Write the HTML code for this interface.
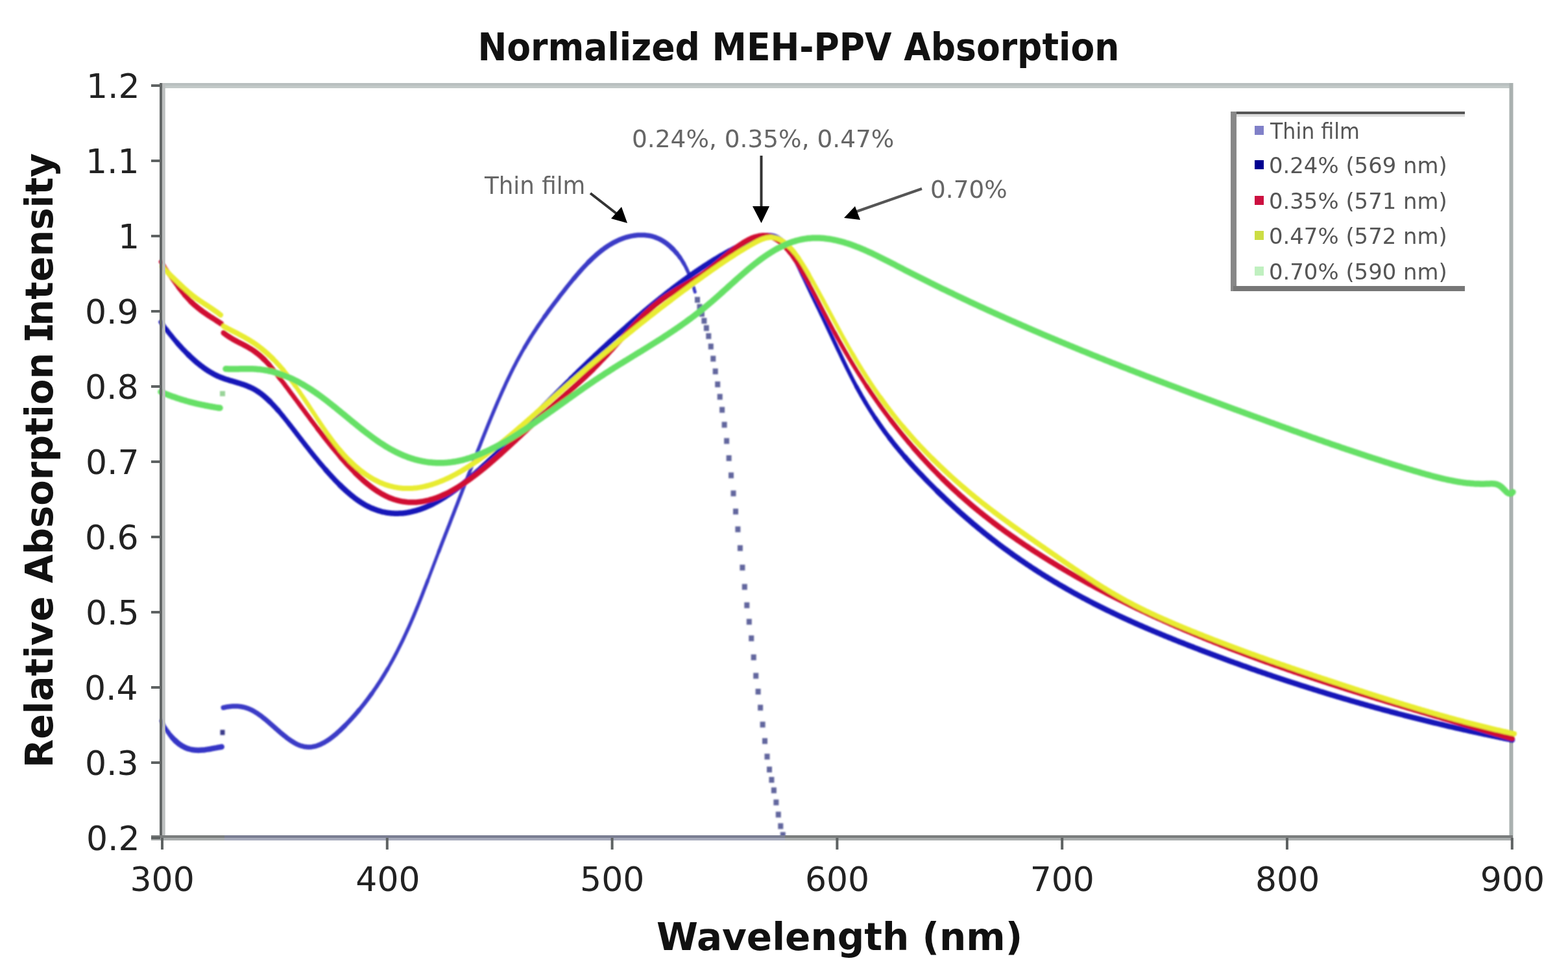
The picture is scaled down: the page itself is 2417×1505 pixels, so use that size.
<!DOCTYPE html>
<html><head><meta charset="utf-8"><title>Normalized MEH-PPV Absorption</title><style>
html,body{margin:0;padding:0;background:#fff;width:2417px;height:1505px;overflow:hidden}
svg{display:block}
text{font-family:"DejaVu Sans","Liberation Sans",sans-serif}
.tk{font-size:52px;fill:#222}
.tt{font-size:58px;font-weight:bold;fill:#111}
.an{font-size:38px;fill:#666}
.lg{font-size:34px;fill:#555}
</style></head><body>
<svg width="2417" height="1505" viewBox="0 0 2417 1505">
<rect width="2417" height="1505" fill="#fff"/>
<rect x="250" y="128" width="2080" height="8" fill="#c2c9c8"/>
<rect x="250" y="128" width="2080" height="4" fill="#b9c0c0"/>
<rect x="2326.5" y="128" width="6" height="1168" fill="#aab1b0"/>
<defs><clipPath id="plotclip"><rect x="240" y="128" width="2100" height="1166"/></clipPath><filter id="soft" x="-5%" y="-5%" width="110%" height="110%"><feGaussianBlur stdDeviation="0.9"/></filter></defs>
<g clip-path="url(#plotclip)"><g filter="url(#soft)">
<g fill="none" stroke="#3535c6" stroke-linejoin="round" stroke-linecap="round"><path d="M248.7,1111.7 250.7,1115.5 252.7,1119.0 254.7,1122.4 255.7,1124.0" stroke-width="6.0"/><path d="M254.7,1122.4 256.7,1125.5 258.7,1128.5 259.7,1129.9" stroke-width="6.5"/><path d="M258.7,1128.5 260.7,1131.3 262.7,1133.9 263.7,1135.1" stroke-width="7.0"/><path d="M262.7,1133.9 264.7,1136.3 266.7,1138.6" stroke-width="7.5"/><path d="M265.7,1137.5 267.7,1139.7 269.7,1141.7 270.7,1142.6" stroke-width="8.0"/><path d="M269.7,1141.7 271.7,1143.6 273.7,1145.3 275.7,1146.9 277.7,1148.3 279.7,1149.6 281.7,1150.8 283.7,1151.9 285.7,1152.8 287.7,1153.7 289.7,1154.4 291.7,1155.0 293.7,1155.5 295.7,1156.0 297.7,1156.3 299.7,1156.6 301.7,1156.7 303.7,1156.8 305.7,1156.9 307.7,1156.8 309.7,1156.8 311.7,1156.6 313.7,1156.4 315.7,1156.2 317.7,1155.9 319.7,1155.6 321.7,1155.3 323.7,1155.0 325.7,1154.6 327.7,1154.2 329.7,1153.8 331.7,1153.4 333.7,1153.1 335.7,1152.7 337.7,1152.3 339.7,1152.0 341.7,1151.6" stroke-width="8.5"/></g>
<rect x="339.5" y="1125.4" width="7" height="8" fill="#3a3a8a"/>
<g fill="none" stroke="#3a3ac6" stroke-linejoin="round" stroke-linecap="round"><path d="M344.3,1091.2 346.3,1090.8 348.3,1090.3 350.3,1090.0 352.3,1089.7 354.3,1089.4 356.3,1089.2 358.3,1089.1 360.3,1089.0 362.3,1089.0 364.3,1089.0 366.3,1089.1 368.3,1089.3 370.3,1089.5 372.3,1089.8 374.3,1090.2 376.3,1090.7 378.3,1091.2 380.3,1091.8 382.3,1092.5 384.3,1093.3 386.3,1094.2 388.3,1095.2 390.3,1096.2 392.3,1097.3 394.3,1098.6 396.3,1099.8 398.3,1101.2 400.3,1102.6 402.3,1104.1 404.3,1105.6 406.3,1107.2 408.3,1108.8 410.3,1110.4 412.3,1112.1 414.3,1113.8 416.3,1115.6 418.3,1117.3 420.3,1119.1 422.3,1120.8 424.3,1122.6 426.3,1124.4 428.3,1126.1 430.3,1127.9 432.3,1129.6 434.3,1131.3 436.3,1132.9 438.3,1134.6 440.3,1136.1 442.3,1137.7 444.3,1139.2 446.3,1140.6 448.3,1142.0 450.3,1143.3 452.3,1144.5 454.3,1145.7 456.3,1146.8 458.3,1147.8 460.3,1148.7 462.3,1149.5 464.3,1150.2 466.3,1150.7 468.3,1151.2 470.3,1151.6 472.3,1151.8 474.3,1152.0 476.3,1152.0 478.3,1151.9 480.3,1151.7 482.3,1151.4 484.3,1151.0 486.3,1150.6 488.3,1150.0 490.3,1149.3 492.3,1148.5 494.3,1147.7 496.3,1146.7 498.3,1145.7 500.3,1144.6 502.3,1143.4 504.3,1142.2 506.3,1140.9 508.3,1139.5 510.3,1138.0 512.3,1136.5 514.3,1134.9 516.3,1133.3 518.3,1131.6 520.3,1129.8 522.3,1128.0 524.3,1126.2 526.3,1124.3 528.3,1122.3 530.3,1120.4 531.3,1119.4" stroke-width="7.5"/><path d="M530.3,1120.4 532.3,1118.3 534.3,1116.3 536.3,1114.2 538.3,1112.1 540.3,1109.9 542.3,1107.8 544.3,1105.5 546.3,1103.3 548.3,1101.0 550.3,1098.7 552.3,1096.3 553.3,1095.1" stroke-width="7.0"/><path d="M552.3,1096.3 554.3,1093.9 556.3,1091.5 558.3,1089.0 560.3,1086.5 562.3,1083.9 564.3,1081.3 566.3,1078.7 568.3,1076.0 570.3,1073.3 572.3,1070.5 573.3,1069.1" stroke-width="6.5"/><path d="M572.3,1070.5 574.3,1067.7 576.3,1064.8 578.3,1061.9 580.3,1059.0 582.3,1055.9 584.3,1052.9 586.3,1049.8 588.3,1046.6 590.3,1043.4 592.3,1040.1 594.3,1036.8 596.3,1033.4 597.3,1031.7" stroke-width="6.0"/><path d="M596.3,1033.4 598.3,1030.0 600.3,1026.5 602.3,1022.9 604.3,1019.3 606.3,1015.6 608.3,1011.9 610.3,1008.1 612.3,1004.2 614.3,1000.3 616.3,996.3 618.3,992.3 620.3,988.2 622.3,984.0 624.3,979.7 626.3,975.4 628.3,971.0 630.3,966.6 632.3,962.1 634.3,957.5 636.3,952.8 638.3,948.1 640.3,943.3 642.3,938.4 644.3,933.5 646.3,928.5 648.3,923.5 650.3,918.4 652.3,913.3 654.3,908.1 656.3,903.0 658.3,897.8 659.3,895.2" stroke-width="5.5"/><path d="M658.3,897.8 660.3,892.6 662.3,887.3 664.3,882.1 666.3,876.8 668.3,871.6 670.3,866.4 672.3,861.1 674.3,855.9 676.3,850.7 677.3,848.1" stroke-width="5.0"/><path d="M676.3,850.7 678.3,845.5 680.3,840.3 682.3,835.1 684.3,830.0 686.3,824.8 688.3,819.7 690.3,814.5 692.3,809.4 694.3,804.2 696.3,799.1 698.3,793.9 700.3,788.8 702.3,783.6 704.3,778.5 706.3,773.3 708.3,768.1 710.3,763.0 712.3,757.8 714.3,752.6 716.3,747.4 718.3,742.2 720.3,737.0 722.3,731.8 724.3,726.6 726.3,721.4 728.3,716.2 730.3,711.1 732.3,705.9 734.3,700.8 736.3,695.6 738.3,690.5 740.3,685.4 742.3,680.3 744.3,675.3 746.3,670.3 748.3,665.3 750.3,660.3 752.3,655.3 754.3,650.4 756.3,645.5 758.3,640.7 760.3,635.9 762.3,631.1 764.3,626.4 766.3,621.7 768.3,617.0 770.3,612.5 772.3,607.9 774.3,603.4 776.3,599.0 778.3,594.6 780.3,590.2 782.3,586.0 784.3,581.8 786.3,577.6 788.3,573.5 790.3,569.5 792.3,565.6 794.3,561.7 796.3,557.8 798.3,554.1 800.3,550.4 802.3,546.8 804.3,543.2 806.3,539.7 808.3,536.2 809.3,534.5" stroke-width="5.5"/><path d="M808.3,536.2 810.3,532.8 812.3,529.4 814.3,526.1 816.3,522.9 818.3,519.7 820.3,516.5 822.3,513.4 824.3,510.3 826.3,507.3 828.3,504.2 830.3,501.3 832.3,498.4 834.3,495.5 836.3,492.6 838.3,489.8 840.3,486.9" stroke-width="6.0"/><path d="M839.3,488.3 841.3,485.6 843.3,482.8 845.3,480.0 847.3,477.3 849.3,474.6 851.3,471.9 853.3,469.3 855.3,466.6 857.3,464.0 859.3,461.4 861.3,458.7 863.3,456.1 865.3,453.5 867.3,451.0 869.3,448.4 871.3,445.9 873.3,443.3 875.3,440.8 877.3,438.3 879.3,435.9 881.3,433.4 883.3,431.0 885.3,428.6" stroke-width="6.5"/><path d="M884.3,429.8 886.3,427.4 888.3,425.0 890.3,422.7 892.3,420.4 894.3,418.1 896.3,415.9 898.3,413.7 900.3,411.5 902.3,409.4 904.3,407.3 906.3,405.2 908.3,403.2" stroke-width="7.0"/><path d="M907.3,404.2 909.3,402.2 911.3,400.3 913.3,398.4 915.3,396.5 917.3,394.7 919.3,392.9 921.3,391.2 923.3,389.5 925.3,387.9 927.3,386.3 929.3,384.7 931.3,383.3 933.3,381.8 935.3,380.5 937.3,379.1 939.3,377.9 941.3,376.7 943.3,375.5 945.3,374.4 947.3,373.3 949.3,372.3 951.3,371.3 953.3,370.4 955.3,369.5 957.3,368.7 959.3,367.9 961.3,367.2 963.3,366.5 965.3,365.9 967.3,365.3 969.3,364.8 971.3,364.4 973.3,363.9 975.3,363.6 977.3,363.3 979.3,363.0 981.3,362.8 983.3,362.6 985.3,362.5 987.3,362.4 989.3,362.4 991.3,362.4 993.3,362.5 995.3,362.7 997.3,362.9 999.3,363.2 1001.3,363.5 1003.3,363.9 1005.3,364.4 1007.3,365.0 1009.3,365.6 1011.3,366.4 1013.3,367.2 1015.3,368.1 1017.3,369.0 1019.3,370.1 1021.3,371.3 1023.3,372.5 1025.3,373.9 1027.3,375.3 1029.3,376.9 1031.3,378.5 1033.3,380.3 1035.3,382.2 1037.3,384.2" stroke-width="7.5"/><path d="M1036.3,383.1 1038.3,385.2 1040.3,387.4 1042.3,389.6 1043.3,390.8" stroke-width="7.0"/><path d="M1042.3,389.6 1044.3,392.0 1046.3,394.6 1048.3,397.3" stroke-width="6.5"/><path d="M1047.3,395.9 1049.3,398.7 1051.3,401.7 1053.3,405.0 1054.3,406.7" stroke-width="6.0"/><path d="M1053.3,405.0 1055.3,408.5 1057.3,412.3 1059.3,416.5 1061.3,421.0 1063.3,425.9 1064.3,428.6" stroke-width="5.5"/><path d="M1063.3,425.9 1065.3,431.3 1067.3,437.1 1069.3,443.4 1071.3,450.2" stroke-width="5.0"/></g>
<rect x="1071.0" y="457.8" width="8" height="9" fill="#62669e"/>
<rect x="1074.5" y="468.8" width="8" height="9" fill="#62669e"/>
<rect x="1077.9" y="479.4" width="8" height="9" fill="#62669e"/>
<rect x="1081.4" y="490.2" width="8" height="9" fill="#62669e"/>
<rect x="1084.9" y="501.4" width="8" height="9" fill="#62669e"/>
<rect x="1088.3" y="513.8" width="8" height="9" fill="#62669e"/>
<rect x="1091.8" y="529.8" width="8" height="9" fill="#62669e"/>
<rect x="1095.3" y="548.6" width="8" height="9" fill="#62669e"/>
<rect x="1098.7" y="568.2" width="8" height="9" fill="#62669e"/>
<rect x="1102.2" y="588.2" width="8" height="9" fill="#62669e"/>
<rect x="1105.7" y="607.4" width="8" height="9" fill="#62669e"/>
<rect x="1109.1" y="627.5" width="8" height="9" fill="#62669e"/>
<rect x="1112.6" y="650.5" width="8" height="9" fill="#62669e"/>
<rect x="1116.1" y="675.5" width="8" height="9" fill="#62669e"/>
<rect x="1119.6" y="702.0" width="8" height="9" fill="#62669e"/>
<rect x="1123.0" y="728.5" width="8" height="9" fill="#62669e"/>
<rect x="1126.5" y="756.3" width="8" height="9" fill="#62669e"/>
<rect x="1130.0" y="784.3" width="8" height="9" fill="#62669e"/>
<rect x="1133.4" y="811.7" width="8" height="9" fill="#62669e"/>
<rect x="1136.9" y="840.7" width="8" height="9" fill="#62669e"/>
<rect x="1140.4" y="870.7" width="8" height="9" fill="#62669e"/>
<rect x="1143.8" y="900.5" width="8" height="9" fill="#62669e"/>
<rect x="1147.3" y="928.8" width="8" height="9" fill="#62669e"/>
<rect x="1150.8" y="954.3" width="8" height="9" fill="#62669e"/>
<rect x="1154.2" y="979.8" width="8" height="9" fill="#62669e"/>
<rect x="1157.7" y="1009.1" width="8" height="9" fill="#62669e"/>
<rect x="1161.2" y="1037.6" width="8" height="9" fill="#62669e"/>
<rect x="1164.6" y="1062.0" width="8" height="9" fill="#62669e"/>
<rect x="1168.1" y="1086.7" width="8" height="9" fill="#62669e"/>
<rect x="1171.6" y="1112.8" width="8" height="9" fill="#62669e"/>
<rect x="1175.0" y="1138.2" width="8" height="9" fill="#62669e"/>
<rect x="1178.5" y="1162.2" width="8" height="9" fill="#62669e"/>
<rect x="1182.0" y="1182.1" width="8" height="9" fill="#62669e"/>
<rect x="1185.4" y="1198.0" width="8" height="9" fill="#62669e"/>
<rect x="1188.9" y="1214.2" width="8" height="9" fill="#62669e"/>
<rect x="1192.4" y="1232.8" width="8" height="9" fill="#62669e"/>
<rect x="1195.8" y="1251.6" width="8" height="9" fill="#62669e"/>
<rect x="1199.3" y="1269.4" width="8" height="9" fill="#62669e"/>
<rect x="1202.8" y="1283.0" width="8" height="9" fill="#62669e"/>
<g fill="none" stroke="#1818b8" stroke-linejoin="round" stroke-linecap="round"><path d="M248.0,496.7 250.0,499.5 252.0,502.2 254.0,504.9 256.0,507.5 257.0,508.8" stroke-width="7.0"/><path d="M256.0,507.5 258.0,510.1 260.0,512.7 262.0,515.2 264.0,517.7 266.0,520.2 268.0,522.6 270.0,525.0 272.0,527.3 274.0,529.6" stroke-width="7.5"/><path d="M273.0,528.5 275.0,530.8 277.0,533.0 279.0,535.2 281.0,537.4 283.0,539.5 285.0,541.6 287.0,543.7 289.0,545.7 291.0,547.7" stroke-width="8.0"/><path d="M290.0,546.7 292.0,548.6 294.0,550.5 296.0,552.4 298.0,554.2 300.0,556.0 302.0,557.7 304.0,559.4 306.0,561.0 308.0,562.6 310.0,564.2 312.0,565.7 314.0,567.2 316.0,568.6 318.0,569.9 320.0,571.3 322.0,572.5 324.0,573.8 326.0,574.9 328.0,576.0 330.0,577.1 332.0,578.2 334.0,579.1 336.0,580.1 338.0,580.9 340.0,581.8 342.0,582.5 344.0,583.3 346.0,584.0 348.0,584.7 350.0,585.3 352.0,585.9 354.0,586.6 356.0,587.2 358.0,587.7 360.0,588.3 362.0,588.9 364.0,589.5 366.0,590.1 368.0,590.7 370.0,591.3 372.0,592.0 374.0,592.6 376.0,593.3 378.0,594.0 380.0,594.8 382.0,595.6 384.0,596.5 386.0,597.4 388.0,598.3 390.0,599.3 392.0,600.4 394.0,601.5 396.0,602.8 398.0,604.0 400.0,605.4 402.0,606.9 404.0,608.4 406.0,610.0 408.0,611.7 410.0,613.4 412.0,615.3 414.0,617.2 416.0,619.1" stroke-width="8.5"/><path d="M415.0,618.1 417.0,620.1 419.0,622.2 421.0,624.3 423.0,626.4 425.0,628.6 427.0,630.9 429.0,633.2" stroke-width="8.0"/><path d="M428.0,632.0 430.0,634.3 432.0,636.7 434.0,639.1 436.0,641.5 438.0,644.0 440.0,646.5 442.0,649.0 444.0,651.5 446.0,654.1 448.0,656.6 450.0,659.2 452.0,661.8 454.0,664.4 456.0,667.0 458.0,669.6 460.0,672.2 462.0,674.8 464.0,677.4 466.0,680.0 468.0,682.5 470.0,685.1 472.0,687.7 474.0,690.2 476.0,692.8 478.0,695.3 480.0,697.8 482.0,700.3 484.0,702.8 486.0,705.3 488.0,707.7 490.0,710.1 492.0,712.6 494.0,715.0 496.0,717.3 498.0,719.7 500.0,722.0 502.0,724.3 503.0,725.5" stroke-width="7.5"/><path d="M502.0,724.3 504.0,726.6 506.0,728.9 508.0,731.1 510.0,733.3 512.0,735.5 514.0,737.6 516.0,739.8 518.0,741.8 520.0,743.9 522.0,745.9 524.0,747.9 525.0,748.9" stroke-width="8.0"/><path d="M524.0,747.9 526.0,749.9 528.0,751.8 530.0,753.7 532.0,755.5 534.0,757.3 536.0,759.1 538.0,760.8 540.0,762.5 542.0,764.1 544.0,765.7 546.0,767.3 548.0,768.8 550.0,770.3 552.0,771.7 554.0,773.1 556.0,774.4 558.0,775.7 560.0,776.9 562.0,778.1 564.0,779.2 566.0,780.2 568.0,781.3 570.0,782.2 572.0,783.2 574.0,784.0 576.0,784.8 578.0,785.6 580.0,786.3 582.0,787.0 584.0,787.7 586.0,788.2 588.0,788.8 590.0,789.3 592.0,789.7 594.0,790.1 596.0,790.5 598.0,790.8 600.0,791.1 602.0,791.3 604.0,791.5 606.0,791.6 608.0,791.7 610.0,791.7 612.0,791.8 614.0,791.7 616.0,791.6 618.0,791.5 620.0,791.4 622.0,791.2 624.0,791.0 626.0,790.7 628.0,790.4 630.0,790.0 632.0,789.6 634.0,789.2 636.0,788.7 638.0,788.2 640.0,787.7 642.0,787.1 644.0,786.5 646.0,785.9 648.0,785.2 650.0,784.5 652.0,783.7 654.0,783.0 656.0,782.1 658.0,781.3 660.0,780.4 662.0,779.5 664.0,778.6 666.0,777.6 668.0,776.6 670.0,775.5 672.0,774.5 674.0,773.4 676.0,772.2 678.0,771.1 680.0,769.9 682.0,768.7 684.0,767.4 686.0,766.1 688.0,764.8 690.0,763.5 692.0,762.1 694.0,760.8 696.0,759.4 698.0,757.9 700.0,756.5 702.0,755.0 704.0,753.5 706.0,752.0 708.0,750.5 710.0,748.9 712.0,747.3 714.0,745.7 716.0,744.1 718.0,742.4 720.0,740.8 722.0,739.1 724.0,737.4 726.0,735.7 728.0,734.0 730.0,732.2 732.0,730.4 734.0,728.7 736.0,726.9 738.0,725.1 740.0,723.3 742.0,721.4 744.0,719.6 746.0,717.7 748.0,715.9 750.0,714.0 752.0,712.1 754.0,710.2 756.0,708.3 758.0,706.4 760.0,704.5 762.0,702.5 764.0,700.6 766.0,698.7 768.0,696.7 770.0,694.8 772.0,692.8" stroke-width="8.5"/><path d="M771.0,693.8 773.0,691.8 775.0,689.8 777.0,687.9 779.0,685.9 781.0,683.9 783.0,681.9 785.0,679.9 787.0,677.9 789.0,675.9 791.0,673.9 793.0,671.9 795.0,669.9 797.0,667.9 799.0,665.8 801.0,663.8 803.0,661.8 805.0,659.8 807.0,657.7 809.0,655.7 811.0,653.7 813.0,651.6 815.0,649.6 817.0,647.6 819.0,645.5 821.0,643.5 823.0,641.5 825.0,639.4 827.0,637.4 829.0,635.4 831.0,633.3 833.0,631.3 835.0,629.3 837.0,627.2 839.0,625.2 841.0,623.2 843.0,621.2 845.0,619.2 847.0,617.1 849.0,615.1 851.0,613.1 853.0,611.1 855.0,609.1 857.0,607.1 859.0,605.1 861.0,603.1 863.0,601.1 865.0,599.1 867.0,597.1 869.0,595.2 871.0,593.2 873.0,591.2 875.0,589.2 877.0,587.3 879.0,585.3 881.0,583.3" stroke-width="8.0"/><path d="M880.0,584.3 882.0,582.4 884.0,580.4 886.0,578.4 888.0,576.5 890.0,574.6 892.0,572.6 894.0,570.7 896.0,568.7 898.0,566.8 900.0,564.9 902.0,563.0 904.0,561.0 906.0,559.1 908.0,557.2 910.0,555.3 912.0,553.4 914.0,551.5 916.0,549.6 918.0,547.7 920.0,545.8 922.0,544.0 924.0,542.1 926.0,540.2 928.0,538.3 930.0,536.5 932.0,534.6 934.0,532.8 936.0,530.9 938.0,529.1 940.0,527.2 942.0,525.4 944.0,523.6 946.0,521.8 948.0,519.9 950.0,518.1 952.0,516.3 954.0,514.5 956.0,512.7 958.0,510.9 960.0,509.1 962.0,507.4 964.0,505.6 966.0,503.8 968.0,502.0 970.0,500.3 972.0,498.5 974.0,496.8 976.0,495.0 978.0,493.3 980.0,491.6 982.0,489.8 984.0,488.1 986.0,486.4 988.0,484.7 990.0,483.0 992.0,481.3 994.0,479.6 996.0,477.9 998.0,476.3 1000.0,474.6 1002.0,472.9 1004.0,471.3 1006.0,469.6 1008.0,468.0 1010.0,466.3 1012.0,464.7 1014.0,463.1 1016.0,461.5 1018.0,459.9 1020.0,458.3 1022.0,456.7 1024.0,455.1 1026.0,453.5 1028.0,451.9 1030.0,450.4 1032.0,448.8 1034.0,447.3 1036.0,445.7 1038.0,444.2 1040.0,442.7 1042.0,441.1 1044.0,439.6 1046.0,438.1 1048.0,436.6 1050.0,435.2 1052.0,433.7 1054.0,432.2 1056.0,430.8 1058.0,429.3 1060.0,427.9 1062.0,426.4 1064.0,425.0 1066.0,423.6 1068.0,422.2 1070.0,420.8 1072.0,419.4 1074.0,418.1 1076.0,416.7 1078.0,415.4 1080.0,414.0 1082.0,412.7 1084.0,411.4 1086.0,410.1 1088.0,408.8 1090.0,407.5 1092.0,406.2 1094.0,404.9 1096.0,403.7 1098.0,402.4 1100.0,401.2 1102.0,400.0 1104.0,398.8 1106.0,397.6 1108.0,396.4 1110.0,395.2 1112.0,394.0 1114.0,392.9 1116.0,391.8 1118.0,390.6 1120.0,389.5 1122.0,388.4 1124.0,387.3 1126.0,386.2 1128.0,385.2 1130.0,384.1 1132.0,383.1 1134.0,382.1 1136.0,381.1 1138.0,380.1 1140.0,379.1 1142.0,378.1 1144.0,377.1 1146.0,376.2 1148.0,375.3 1150.0,374.3 1152.0,373.4 1154.0,372.6 1156.0,371.7 1158.0,370.8 1160.0,370.0 1162.0,369.1 1164.0,368.3 1166.0,367.6 1168.0,366.8 1170.0,366.1 1172.0,365.5 1174.0,365.0 1176.0,364.5 1178.0,364.1 1180.0,363.8 1182.0,363.6 1184.0,363.5 1186.0,363.5 1188.0,363.7 1190.0,364.0 1192.0,364.4 1194.0,365.0 1196.0,365.8 1198.0,366.7 1200.0,367.9 1202.0,369.2 1204.0,370.7 1206.0,372.4 1208.0,374.4" stroke-width="8.5"/><path d="M1207.0,373.4 1209.0,375.4 1210.0,376.5" stroke-width="8.0"/><path d="M1209.0,375.4 1211.0,377.7 1213.0,380.2" stroke-width="7.5"/><path d="M1212.0,379.0 1214.0,381.6 1216.0,384.5 1217.0,386.0" stroke-width="7.0"/><path d="M1216.0,384.5 1218.0,387.6 1220.0,390.8 1222.0,394.3 1224.0,397.9 1225.0,399.7" stroke-width="6.5"/><path d="M1224.0,397.9 1226.0,401.6 1228.0,405.5 1230.0,409.5 1232.0,413.5 1234.0,417.7 1236.0,421.9 1238.0,426.1 1240.0,430.3 1242.0,434.6 1244.0,438.8 1246.0,443.0 1248.0,447.2 1250.0,451.4 1252.0,455.6 1254.0,459.7 1256.0,463.9 1258.0,468.0 1260.0,472.2 1262.0,476.3 1264.0,480.5 1266.0,484.7 1268.0,488.8 1270.0,493.0 1272.0,497.2 1274.0,501.4 1276.0,505.6 1278.0,509.9 1280.0,514.1 1282.0,518.4 1284.0,522.6 1286.0,526.9 1288.0,531.1 1290.0,535.4 1292.0,539.6 1294.0,543.8 1296.0,548.0 1298.0,552.2 1300.0,556.4 1302.0,560.5 1304.0,564.6 1306.0,568.7 1308.0,572.7 1310.0,576.7 1312.0,580.6 1314.0,584.5 1316.0,588.3 1318.0,592.1 1320.0,595.9 1321.0,597.7" stroke-width="6.0"/><path d="M1320.0,595.9 1322.0,599.5 1324.0,603.2 1326.0,606.7 1328.0,610.3 1330.0,613.7 1332.0,617.1 1334.0,620.5 1336.0,623.9 1338.0,627.1 1340.0,630.4 1342.0,633.6 1344.0,636.7 1346.0,639.8 1348.0,642.9 1350.0,645.9" stroke-width="6.5"/><path d="M1349.0,644.4 1351.0,647.4 1353.0,650.3 1355.0,653.3 1357.0,656.1 1359.0,659.0 1361.0,661.8 1363.0,664.6 1365.0,667.3 1367.0,670.0 1369.0,672.7 1371.0,675.3 1372.0,676.6" stroke-width="7.0"/><path d="M1371.0,675.3 1373.0,677.9 1375.0,680.5 1377.0,683.0 1379.0,685.6 1381.0,688.0 1383.0,690.5 1385.0,692.9 1387.0,695.3 1389.0,697.7 1391.0,700.1 1393.0,702.4 1395.0,704.7 1396.0,705.9" stroke-width="7.5"/><path d="M1395.0,704.7 1397.0,707.0 1399.0,709.3 1401.0,711.5 1403.0,713.8 1405.0,716.0 1407.0,718.2 1409.0,720.4 1411.0,722.5 1413.0,724.7 1415.0,726.8 1417.0,728.9 1419.0,731.0 1421.0,733.1 1423.0,735.2 1425.0,737.3 1427.0,739.4 1429.0,741.4 1431.0,743.5 1433.0,745.5 1435.0,747.5 1437.0,749.5 1439.0,751.5 1441.0,753.5 1443.0,755.5 1445.0,757.4 1446.0,758.4" stroke-width="8.0"/><path d="M1445.0,757.4 1447.0,759.4 1449.0,761.4 1451.0,763.3 1453.0,765.2 1455.0,767.1 1457.0,769.0 1459.0,770.9 1461.0,772.8 1463.0,774.7 1465.0,776.5 1467.0,778.4 1469.0,780.2 1471.0,782.1 1473.0,783.9 1475.0,785.7 1477.0,787.5 1479.0,789.3 1481.0,791.1 1483.0,792.9 1485.0,794.6 1487.0,796.4 1489.0,798.1 1491.0,799.9 1493.0,801.6 1495.0,803.3 1497.0,805.0 1499.0,806.7 1501.0,808.4 1503.0,810.1 1505.0,811.8 1507.0,813.4 1509.0,815.1 1511.0,816.7 1513.0,818.3 1515.0,820.0 1517.0,821.6 1519.0,823.2 1521.0,824.8 1523.0,826.4 1525.0,828.0 1527.0,829.5 1529.0,831.1 1531.0,832.6 1533.0,834.2 1535.0,835.7 1537.0,837.3 1539.0,838.8 1541.0,840.3 1543.0,841.8 1545.0,843.3 1547.0,844.8 1549.0,846.3 1551.0,847.7 1553.0,849.2 1555.0,850.6 1557.0,852.1 1559.0,853.5 1561.0,855.0 1563.0,856.4 1565.0,857.8 1567.0,859.2 1569.0,860.6 1571.0,862.0 1573.0,863.4 1575.0,864.7 1577.0,866.1 1579.0,867.5 1581.0,868.8 1583.0,870.2 1585.0,871.5 1587.0,872.8 1589.0,874.2 1591.0,875.5 1593.0,876.8 1595.0,878.1 1597.0,879.4 1599.0,880.7 1601.0,882.0 1603.0,883.2 1605.0,884.5 1607.0,885.8 1609.0,887.0 1611.0,888.3 1613.0,889.5 1615.0,890.7 1617.0,892.0 1619.0,893.2 1621.0,894.4 1623.0,895.6 1625.0,896.8 1627.0,898.0 1629.0,899.2 1631.0,900.4 1633.0,901.6 1635.0,902.7 1637.0,903.9 1639.0,905.0 1641.0,906.2 1643.0,907.3 1645.0,908.5 1647.0,909.6 1649.0,910.7 1651.0,911.9 1653.0,913.0 1655.0,914.1 1657.0,915.2 1659.0,916.3 1661.0,917.4 1663.0,918.5 1665.0,919.5 1667.0,920.6 1669.0,921.7 1671.0,922.8 1673.0,923.8 1675.0,924.9 1677.0,925.9 1679.0,927.0 1681.0,928.0 1683.0,929.0 1685.0,930.1 1687.0,931.1 1689.0,932.1 1691.0,933.1 1693.0,934.1 1695.0,935.1 1697.0,936.1 1699.0,937.1 1701.0,938.1 1703.0,939.1 1705.0,940.1 1707.0,941.1 1709.0,942.0 1711.0,943.0 1713.0,944.0 1715.0,944.9 1717.0,945.9 1719.0,946.8 1721.0,947.8 1723.0,948.7 1725.0,949.7 1727.0,950.6 1729.0,951.5 1731.0,952.5 1733.0,953.4 1735.0,954.3 1737.0,955.2 1739.0,956.1 1741.0,957.0 1743.0,957.9 1745.0,958.8 1747.0,959.7 1749.0,960.6 1751.0,961.5 1753.0,962.4 1755.0,963.3 1757.0,964.1 1759.0,965.0 1761.0,965.9 1763.0,966.8 1765.0,967.6 1767.0,968.5 1769.0,969.4 1771.0,970.2 1773.0,971.1 1775.0,971.9 1777.0,972.8 1779.0,973.6 1781.0,974.4 1783.0,975.3 1785.0,976.1 1787.0,976.9 1789.0,977.8 1791.0,978.6 1793.0,979.4 1795.0,980.3 1797.0,981.1 1799.0,981.9 1801.0,982.7 1803.0,983.5 1805.0,984.3 1807.0,985.1 1809.0,986.0 1811.0,986.8 1813.0,987.6 1815.0,988.4 1817.0,989.2 1819.0,990.0 1821.0,990.7 1823.0,991.5 1825.0,992.3 1827.0,993.1 1829.0,993.9 1831.0,994.7 1833.0,995.5 1835.0,996.3 1837.0,997.0 1839.0,997.8 1841.0,998.6 1843.0,999.4 1845.0,1000.1 1847.0,1000.9 1849.0,1001.7 1851.0,1002.5 1853.0,1003.2 1855.0,1004.0 1857.0,1004.8 1859.0,1005.5 1861.0,1006.3 1863.0,1007.0 1865.0,1007.8 1867.0,1008.6 1869.0,1009.3 1871.0,1010.1 1873.0,1010.8 1875.0,1011.6 1877.0,1012.3 1879.0,1013.1 1881.0,1013.8 1883.0,1014.5 1885.0,1015.3 1887.0,1016.0 1889.0,1016.8 1891.0,1017.5 1893.0,1018.2 1895.0,1019.0 1897.0,1019.7 1899.0,1020.4 1901.0,1021.1 1903.0,1021.9 1905.0,1022.6 1907.0,1023.3 1909.0,1024.0 1911.0,1024.8 1913.0,1025.5 1915.0,1026.2 1917.0,1026.9 1919.0,1027.6 1921.0,1028.3 1923.0,1029.0 1925.0,1029.7 1927.0,1030.5 1929.0,1031.2 1931.0,1031.9 1933.0,1032.6 1935.0,1033.3 1937.0,1034.0 1939.0,1034.7 1941.0,1035.4 1943.0,1036.0 1945.0,1036.7 1947.0,1037.4 1949.0,1038.1 1951.0,1038.8 1953.0,1039.5 1955.0,1040.2 1957.0,1040.8 1959.0,1041.5 1961.0,1042.2 1963.0,1042.9 1965.0,1043.6 1967.0,1044.2 1969.0,1044.9 1971.0,1045.6 1973.0,1046.2 1975.0,1046.9 1977.0,1047.6 1979.0,1048.2 1981.0,1048.9 1983.0,1049.6 1985.0,1050.2 1987.0,1050.9 1989.0,1051.5 1991.0,1052.2 1993.0,1052.8 1995.0,1053.5 1997.0,1054.1 1999.0,1054.8 2001.0,1055.4 2003.0,1056.1 2005.0,1056.7 2007.0,1057.4 2009.0,1058.0 2011.0,1058.6 2013.0,1059.3 2015.0,1059.9 2017.0,1060.5 2019.0,1061.2 2021.0,1061.8 2023.0,1062.4 2025.0,1063.1 2027.0,1063.7 2029.0,1064.3 2031.0,1064.9 2033.0,1065.6 2035.0,1066.2 2037.0,1066.8 2039.0,1067.4 2041.0,1068.0 2043.0,1068.6 2045.0,1069.2 2047.0,1069.9 2049.0,1070.5 2051.0,1071.1 2053.0,1071.7 2055.0,1072.3 2057.0,1072.9 2059.0,1073.5 2061.0,1074.1 2063.0,1074.7 2065.0,1075.3 2067.0,1075.9 2069.0,1076.5 2071.0,1077.1 2073.0,1077.6 2075.0,1078.2 2077.0,1078.8 2079.0,1079.4 2081.0,1080.0 2083.0,1080.6 2085.0,1081.1 2087.0,1081.7 2089.0,1082.3 2091.0,1082.9 2093.0,1083.4 2095.0,1084.0 2097.0,1084.6 2099.0,1085.2 2101.0,1085.7 2103.0,1086.3 2105.0,1086.9 2107.0,1087.4 2109.0,1088.0 2111.0,1088.5 2113.0,1089.1 2115.0,1089.7 2117.0,1090.2 2119.0,1090.8 2121.0,1091.3 2123.0,1091.9 2125.0,1092.4 2127.0,1093.0 2129.0,1093.5 2131.0,1094.1 2133.0,1094.6 2135.0,1095.1 2137.0,1095.7 2139.0,1096.2 2141.0,1096.7 2143.0,1097.3 2145.0,1097.8 2147.0,1098.3 2149.0,1098.9 2151.0,1099.4 2153.0,1099.9 2155.0,1100.5 2157.0,1101.0 2159.0,1101.5 2161.0,1102.0 2163.0,1102.5 2165.0,1103.1 2167.0,1103.6 2169.0,1104.1 2171.0,1104.6 2173.0,1105.1 2175.0,1105.6 2177.0,1106.1 2179.0,1106.7 2181.0,1107.2 2183.0,1107.7 2185.0,1108.2 2187.0,1108.7 2189.0,1109.2 2191.0,1109.7 2193.0,1110.2 2195.0,1110.7 2197.0,1111.2 2199.0,1111.6 2201.0,1112.1 2203.0,1112.6 2205.0,1113.1 2207.0,1113.6 2209.0,1114.1 2211.0,1114.6 2213.0,1115.0 2215.0,1115.5 2217.0,1116.0 2219.0,1116.5 2221.0,1117.0 2223.0,1117.4 2225.0,1117.9 2227.0,1118.4 2229.0,1118.8 2231.0,1119.3 2233.0,1119.8 2235.0,1120.3 2237.0,1120.7 2239.0,1121.2 2241.0,1121.6 2243.0,1122.1 2245.0,1122.6 2247.0,1123.0 2249.0,1123.5 2251.0,1123.9 2253.0,1124.4 2255.0,1124.8 2257.0,1125.3 2259.0,1125.7 2261.0,1126.2 2263.0,1126.6 2265.0,1127.1 2267.0,1127.5 2269.0,1127.9 2271.0,1128.4 2273.0,1128.8 2275.0,1129.2 2277.0,1129.7 2279.0,1130.1 2281.0,1130.5 2283.0,1131.0 2285.0,1131.4 2287.0,1131.8 2289.0,1132.3 2291.0,1132.7 2293.0,1133.1 2295.0,1133.5 2297.0,1133.9 2299.0,1134.4 2301.0,1134.8 2303.0,1135.2 2305.0,1135.6 2307.0,1136.0 2309.0,1136.4 2311.0,1136.8 2313.0,1137.3 2315.0,1137.7 2317.0,1138.1 2319.0,1138.5 2321.0,1138.9 2323.0,1139.3 2325.0,1139.7 2327.0,1140.1 2329.0,1140.5 2331.0,1140.9" stroke-width="8.5"/></g>
<g fill="none" stroke="#d01030" stroke-linejoin="round" stroke-linecap="round"><path d="M248.0,403.7 250.0,406.7 252.0,409.7 253.0,411.2" stroke-width="6.5"/><path d="M252.0,409.7 254.0,412.8 256.0,415.8 258.0,418.7 260.0,421.7 262.0,424.6 264.0,427.5 266.0,430.4 268.0,433.2 270.0,436.0 272.0,438.8 274.0,441.5 276.0,444.1" stroke-width="7.0"/><path d="M275.0,442.8 277.0,445.4 279.0,447.9 281.0,450.4 283.0,452.8 285.0,455.2 286.0,456.3" stroke-width="7.5"/><path d="M285.0,455.2 287.0,457.4 289.0,459.6 291.0,461.7 293.0,463.8 295.0,465.7" stroke-width="8.0"/><path d="M294.0,464.8 296.0,466.7 298.0,468.6 300.0,470.4 302.0,472.1 304.0,473.8 306.0,475.4 308.0,477.0 310.0,478.5 312.0,480.0 314.0,481.4 316.0,482.8 318.0,484.2 320.0,485.6 322.0,486.9 324.0,488.2 326.0,489.5 328.0,490.7 330.0,492.0 332.0,493.3 334.0,494.6 336.0,495.9 338.0,497.2 340.0,498.6 341.0,499.3" stroke-width="8.5"/></g>
<g fill="none" stroke="#d01030" stroke-linejoin="round" stroke-linecap="round"><path d="M344.7,513.3 346.7,514.8 348.7,516.3 350.7,517.8 352.7,519.1 354.7,520.4 356.7,521.6 358.7,522.8 360.7,524.0 362.7,525.1 364.7,526.1 366.7,527.2 368.7,528.2 370.7,529.3 372.7,530.3 374.7,531.3 376.7,532.4 378.7,533.4 380.7,534.5 382.7,535.6 384.7,536.8 386.7,538.0 388.7,539.3 390.7,540.6 392.7,542.0 394.7,543.5 396.7,545.0 398.7,546.6 400.7,548.3 402.7,550.0 404.7,551.9 406.7,553.8 407.7,554.8" stroke-width="8.5"/><path d="M406.7,553.8 408.7,555.8 410.7,557.9 412.7,560.0 414.7,562.3" stroke-width="8.0"/><path d="M413.7,561.1 415.7,563.5 417.7,565.8 419.7,568.3 421.7,570.8 423.7,573.3 425.7,575.9 427.7,578.4 429.7,581.1 431.7,583.7" stroke-width="7.5"/><path d="M430.7,582.4 432.7,585.0 434.7,587.6 436.7,590.2 438.7,592.9 440.7,595.6 442.7,598.2 444.7,600.9 446.7,603.6 448.7,606.3 450.7,608.9 452.7,611.6 454.7,614.3 456.7,617.0 458.7,619.7 460.7,622.4 462.7,625.1 464.7,627.8 466.7,630.5 468.7,633.2 470.7,635.9 472.7,638.6 474.7,641.2 476.7,643.9 478.7,646.6 480.7,649.3 482.7,651.9 484.7,654.6 486.7,657.2 488.7,659.8 490.7,662.4" stroke-width="7.0"/><path d="M489.7,661.1 491.7,663.7 493.7,666.3 495.7,668.9 497.7,671.5 499.7,674.1 501.7,676.6 503.7,679.1 505.7,681.6 507.7,684.1 509.7,686.6 511.7,689.1 513.7,691.5 515.7,693.9 517.7,696.3 519.7,698.7 521.7,701.0 523.7,703.4 525.7,705.7" stroke-width="7.5"/><path d="M524.7,704.5 526.7,706.8 528.7,709.1 530.7,711.3 532.7,713.5 534.7,715.7 536.7,717.9 538.7,720.0 540.7,722.1 542.7,724.2 544.7,726.2 546.7,728.2 548.7,730.2" stroke-width="8.0"/><path d="M547.7,729.2 549.7,731.2 551.7,733.1 553.7,735.0 555.7,736.9 557.7,738.7 559.7,740.5 561.7,742.2 563.7,743.9 565.7,745.6 567.7,747.2 569.7,748.8 571.7,750.3 573.7,751.8 575.7,753.3 577.7,754.7 579.7,756.1 581.7,757.4 583.7,758.7 585.7,759.9 587.7,761.1 589.7,762.2 591.7,763.3 593.7,764.4 595.7,765.3 597.7,766.3 599.7,767.2 601.7,768.0 603.7,768.8 605.7,769.5 607.7,770.2 609.7,770.8 611.7,771.4 613.7,771.9 615.7,772.4 617.7,772.8 619.7,773.2 621.7,773.5 623.7,773.8 625.7,774.1 627.7,774.3 629.7,774.4 631.7,774.5 633.7,774.6 635.7,774.6 637.7,774.5 639.7,774.5 641.7,774.4 643.7,774.2 645.7,774.0 647.7,773.8 649.7,773.5 651.7,773.2 653.7,772.8 655.7,772.4 657.7,772.0 659.7,771.5 661.7,771.0 663.7,770.4 665.7,769.9 667.7,769.2 669.7,768.6 671.7,767.9 673.7,767.2 675.7,766.4 677.7,765.6 679.7,764.8 681.7,763.9 683.7,763.0 685.7,762.1 687.7,761.2 689.7,760.2 691.7,759.2 693.7,758.1 695.7,757.0 697.7,755.9 699.7,754.8 701.7,753.7 703.7,752.5 705.7,751.3 707.7,750.0 709.7,748.8 711.7,747.5 713.7,746.2 715.7,744.9 717.7,743.5 719.7,742.1 721.7,740.7 723.7,739.3 725.7,737.9 727.7,736.4 729.7,734.9 731.7,733.4 733.7,731.9 735.7,730.3 737.7,728.8 739.7,727.2 741.7,725.6 743.7,724.0 745.7,722.4 747.7,720.7 749.7,719.1 751.7,717.4 753.7,715.7 755.7,714.0 757.7,712.3 759.7,710.6 761.7,708.8 763.7,707.1 765.7,705.3 767.7,703.5 769.7,701.8 771.7,700.0 773.7,698.2 775.7,696.4 777.7,694.5 779.7,692.7 781.7,690.9 783.7,689.0 785.7,687.2 787.7,685.3 789.7,683.5 791.7,681.6 793.7,679.8 795.7,677.9 797.7,676.0 799.7,674.2 801.7,672.3 803.7,670.4 805.7,668.5 807.7,666.6 809.7,664.8 811.7,662.9 813.7,661.0 815.7,659.1 817.7,657.3 819.7,655.4 821.7,653.5 823.7,651.7 825.7,649.8 827.7,647.9 829.7,646.1 831.7,644.2 833.7,642.4 835.7,640.6 837.7,638.7 839.7,636.9 841.7,635.1 843.7,633.3 845.7,631.5 847.7,629.7 849.7,627.9 851.7,626.2 853.7,624.4 855.7,622.6 857.7,620.8 859.7,619.1 861.7,617.3 863.7,615.6 865.7,613.8 867.7,612.0 869.7,610.3 871.7,608.5 873.7,606.7 875.7,604.9 877.7,603.2 879.7,601.4 881.7,599.6 883.7,597.8 885.7,596.0 887.7,594.2 889.7,592.4 891.7,590.6 893.7,588.7 895.7,586.9 897.7,585.0 899.7,583.2 901.7,581.3 903.7,579.4 905.7,577.5 907.7,575.6 909.7,573.7 911.7,571.7 913.7,569.8" stroke-width="8.5"/><path d="M912.7,570.8 914.7,568.8 916.7,566.8 918.7,564.8 920.7,562.8 922.7,560.8 924.7,558.7 926.7,556.6 928.7,554.5 930.7,552.4 932.7,550.3 934.7,548.2 936.7,546.0 938.7,543.8 940.7,541.6 942.7,539.5 944.7,537.3 946.7,535.0 948.7,532.8 950.7,530.6 952.7,528.4 954.7,526.2 956.7,524.0 958.7,521.8 960.7,519.5 962.7,517.3 964.7,515.1 966.7,512.9 968.7,510.7 970.7,508.6 972.7,506.4 974.7,504.3 976.7,502.1 978.7,500.0 980.7,497.9 982.7,495.8 984.7,493.8 986.7,491.7 988.7,489.7 990.7,487.7 992.7,485.7" stroke-width="8.0"/><path d="M991.7,486.7 993.7,484.8 995.7,482.8 997.7,481.0 999.7,479.1 1001.7,477.3 1003.7,475.5 1005.7,473.7 1007.7,472.0 1009.7,470.3 1011.7,468.7 1013.7,467.1 1015.7,465.5 1017.7,464.0 1019.7,462.5 1021.7,461.0 1023.7,459.6 1025.7,458.2 1027.7,456.8 1029.7,455.5 1031.7,454.2 1033.7,452.9 1035.7,451.6 1037.7,450.4 1039.7,449.2 1041.7,447.9 1043.7,446.7 1045.7,445.5 1047.7,444.4 1049.7,443.2 1051.7,442.0 1053.7,440.8 1055.7,439.7 1057.7,438.5 1059.7,437.3 1061.7,436.2 1063.7,435.0 1065.7,433.8 1067.7,432.6 1069.7,431.4 1071.7,430.2 1073.7,428.9 1075.7,427.7 1077.7,426.4 1079.7,425.1 1081.7,423.8 1083.7,422.4 1085.7,421.0 1087.7,419.6 1089.7,418.2 1091.7,416.7 1093.7,415.2 1095.7,413.7 1097.7,412.1 1099.7,410.6 1101.7,408.9 1103.7,407.3 1105.7,405.7 1107.7,404.0 1109.7,402.3 1111.7,400.7 1113.7,399.0 1115.7,397.3 1117.7,395.6 1119.7,394.0 1121.7,392.3 1123.7,390.7 1125.7,389.0 1127.7,387.4 1129.7,385.8 1131.7,384.3 1133.7,382.7 1135.7,381.3 1137.7,379.8 1139.7,378.4 1141.7,377.0 1143.7,375.7 1145.7,374.4 1147.7,373.1 1149.7,372.0 1151.7,370.9 1153.7,369.8 1155.7,368.8 1157.7,367.9 1159.7,367.0 1161.7,366.3 1163.7,365.6 1165.7,365.0 1167.7,364.5 1169.7,364.0 1171.7,363.7 1173.7,363.5 1175.7,363.3 1177.7,363.3 1179.7,363.4 1181.7,363.5 1183.7,363.8 1185.7,364.3 1187.7,364.8 1189.7,365.5 1191.7,366.3 1193.7,367.2 1195.7,368.3 1197.7,369.5 1199.7,370.8 1201.7,372.3 1203.7,373.9 1205.7,375.7 1207.7,377.7" stroke-width="8.5"/><path d="M1206.7,376.7 1208.7,378.7 1210.7,380.8 1212.7,383.1" stroke-width="8.0"/><path d="M1211.7,382.0 1213.7,384.3 1215.7,386.8 1217.7,389.4" stroke-width="7.5"/><path d="M1216.7,388.1 1218.7,390.8 1220.7,393.5 1222.7,396.4 1224.7,399.4 1225.7,400.9" stroke-width="7.0"/><path d="M1224.7,399.4 1226.7,402.4 1228.7,405.5 1230.7,408.7 1232.7,412.0 1234.7,415.4 1236.7,418.8 1238.7,422.3 1240.7,425.8 1242.7,429.4 1244.7,433.0 1246.7,436.7" stroke-width="6.5"/><path d="M1245.7,434.8 1247.7,438.5 1249.7,442.3 1251.7,446.0 1253.7,449.8 1255.7,453.7 1257.7,457.5 1259.7,461.4 1261.7,465.2 1263.7,469.1 1265.7,473.0 1267.7,476.9 1269.7,480.8 1271.7,484.7 1273.7,488.5 1275.7,492.4 1277.7,496.2 1279.7,500.0 1281.7,503.7 1283.7,507.5 1285.7,511.2 1287.7,514.9" stroke-width="6.0"/><path d="M1286.7,513.0 1288.7,516.7 1290.7,520.3 1292.7,524.0 1294.7,527.5 1296.7,531.1 1298.7,534.6 1300.7,538.1 1302.7,541.6 1304.7,545.0 1306.7,548.4 1308.7,551.8 1310.7,555.2 1312.7,558.5 1314.7,561.8 1316.7,565.1 1318.7,568.3 1320.7,571.6 1322.7,574.8 1324.7,578.0 1326.7,581.1 1328.7,584.2 1330.7,587.3 1332.7,590.4 1334.7,593.5 1336.7,596.5" stroke-width="6.5"/><path d="M1335.7,595.0 1337.7,598.0 1339.7,601.0 1341.7,604.0 1343.7,606.9 1345.7,609.8 1347.7,612.7 1349.7,615.6 1351.7,618.5 1353.7,621.3 1355.7,624.1 1357.7,626.9 1359.7,629.7 1361.7,632.4 1363.7,635.1 1365.7,637.8 1367.7,640.5 1369.7,643.2 1371.7,645.8 1373.7,648.5" stroke-width="7.0"/><path d="M1372.7,647.1 1374.7,649.8 1376.7,652.4 1378.7,654.9 1380.7,657.5 1382.7,660.0 1384.7,662.5 1386.7,665.0 1388.7,667.5 1390.7,670.0 1392.7,672.4 1394.7,674.8 1396.7,677.2 1398.7,679.6 1400.7,682.0 1402.7,684.3 1404.7,686.7 1406.7,689.0 1408.7,691.3 1409.7,692.4" stroke-width="7.5"/><path d="M1408.7,691.3 1410.7,693.6 1412.7,695.8 1414.7,698.1 1416.7,700.3 1418.7,702.6 1420.7,704.8 1422.7,707.0 1424.7,709.1 1426.7,711.3 1428.7,713.4 1430.7,715.6 1432.7,717.7 1434.7,719.8 1436.7,721.9 1438.7,723.9 1440.7,726.0 1442.7,728.0 1444.7,730.1 1446.7,732.1 1448.7,734.1 1450.7,736.1 1452.7,738.0 1453.7,739.0" stroke-width="8.0"/><path d="M1452.7,738.0 1454.7,740.0 1456.7,742.0 1458.7,743.9 1460.7,745.8 1462.7,747.7 1464.7,749.6 1466.7,751.5 1468.7,753.3 1470.7,755.2 1472.7,757.0 1474.7,758.9 1476.7,760.7 1478.7,762.5 1480.7,764.3 1482.7,766.1 1484.7,767.8 1486.7,769.6 1488.7,771.3 1490.7,773.1 1492.7,774.8 1494.7,776.5 1496.7,778.2 1498.7,779.9 1500.7,781.6 1502.7,783.2 1504.7,784.9 1506.7,786.5 1508.7,788.2 1510.7,789.8 1512.7,791.4 1514.7,793.0 1516.7,794.6 1518.7,796.2 1520.7,797.7 1522.7,799.3 1524.7,800.9 1526.7,802.4 1528.7,803.9 1530.7,805.5 1532.7,807.0 1534.7,808.5 1536.7,810.0 1538.7,811.5 1540.7,813.0 1542.7,814.4 1544.7,815.9 1546.7,817.4 1548.7,818.8 1550.7,820.3 1552.7,821.7 1554.7,823.1 1556.7,824.5 1558.7,825.9 1560.7,827.3 1562.7,828.7 1564.7,830.1 1566.7,831.5 1568.7,832.9 1570.7,834.3 1572.7,835.6 1574.7,837.0 1576.7,838.3 1578.7,839.7 1580.7,841.0 1582.7,842.3 1584.7,843.6 1586.7,845.0 1588.7,846.3 1590.7,847.6 1592.7,848.9 1594.7,850.2 1596.7,851.5 1598.7,852.7 1600.7,854.0 1602.7,855.3 1604.7,856.6 1606.7,857.8 1608.7,859.1 1610.7,860.3 1612.7,861.6 1614.7,862.8 1616.7,864.1 1618.7,865.3 1620.7,866.5 1622.7,867.7 1624.7,869.0 1626.7,870.2 1628.7,871.4 1630.7,872.6 1632.7,873.8 1634.7,875.0 1636.7,876.2 1638.7,877.4 1640.7,878.6 1642.7,879.7 1644.7,880.9 1646.7,882.1 1648.7,883.2 1650.7,884.4 1652.7,885.5 1654.7,886.7 1656.7,887.8 1658.7,889.0 1660.7,890.1 1662.7,891.3 1664.7,892.4 1666.7,893.5 1668.7,894.6 1670.7,895.7 1672.7,896.9 1674.7,898.0 1676.7,899.1 1678.7,900.2 1680.7,901.3 1682.7,902.3 1684.7,903.4 1686.7,904.5 1688.7,905.6 1690.7,906.7 1692.7,907.7 1694.7,908.8 1696.7,909.9 1698.7,910.9 1700.7,912.0 1702.7,913.0 1704.7,914.1 1706.7,915.1 1708.7,916.2 1710.7,917.2 1712.7,918.2 1714.7,919.2 1716.7,920.3 1718.7,921.3 1720.7,922.3 1722.7,923.3 1724.7,924.3 1726.7,925.3 1728.7,926.3 1730.7,927.3 1732.7,928.3 1734.7,929.3 1736.7,930.3 1738.7,931.3 1740.7,932.3 1742.7,933.3 1744.7,934.2 1746.7,935.2 1748.7,936.2 1750.7,937.1 1752.7,938.1 1754.7,939.0 1756.7,940.0 1758.7,941.0 1760.7,941.9 1762.7,942.8 1764.7,943.8 1766.7,944.7 1768.7,945.7 1770.7,946.6 1772.7,947.5 1774.7,948.4 1776.7,949.4 1778.7,950.3 1780.7,951.2 1782.7,952.1 1784.7,953.0 1786.7,953.9 1788.7,954.8 1790.7,955.7 1792.7,956.6 1794.7,957.5 1796.7,958.4 1798.7,959.3 1800.7,960.2 1802.7,961.1 1804.7,962.0 1806.7,962.9 1808.7,963.7 1810.7,964.6 1812.7,965.5 1814.7,966.4 1816.7,967.2 1818.7,968.1 1820.7,968.9 1822.7,969.8 1824.7,970.7 1826.7,971.5 1828.7,972.4 1830.7,973.2 1832.7,974.1 1834.7,974.9 1836.7,975.7 1838.7,976.6 1840.7,977.4 1842.7,978.3 1844.7,979.1 1846.7,979.9 1848.7,980.8 1850.7,981.6 1852.7,982.4 1854.7,983.2 1856.7,984.0 1858.7,984.9 1860.7,985.7 1862.7,986.5 1864.7,987.3 1866.7,988.1 1868.7,988.9 1870.7,989.7 1872.7,990.5 1874.7,991.3 1876.7,992.1 1878.7,992.9 1880.7,993.7 1882.7,994.5 1884.7,995.3 1886.7,996.1 1888.7,996.8 1890.7,997.6 1892.7,998.4 1894.7,999.2 1896.7,1000.0 1898.7,1000.7 1900.7,1001.5 1902.7,1002.3 1904.7,1003.0 1906.7,1003.8 1908.7,1004.6 1910.7,1005.3 1912.7,1006.1 1914.7,1006.8 1916.7,1007.6 1918.7,1008.4 1920.7,1009.1 1922.7,1009.9 1924.7,1010.6 1926.7,1011.4 1928.7,1012.1 1930.7,1012.8 1932.7,1013.6 1934.7,1014.3 1936.7,1015.1 1938.7,1015.8 1940.7,1016.5 1942.7,1017.3 1944.7,1018.0 1946.7,1018.7 1948.7,1019.4 1950.7,1020.2 1952.7,1020.9 1954.7,1021.6 1956.7,1022.3 1958.7,1023.0 1960.7,1023.8 1962.7,1024.5 1964.7,1025.2 1966.7,1025.9 1968.7,1026.6 1970.7,1027.3 1972.7,1028.0 1974.7,1028.7 1976.7,1029.4 1978.7,1030.1 1980.7,1030.8 1982.7,1031.5 1984.7,1032.2 1986.7,1032.9 1988.7,1033.6 1990.7,1034.3 1992.7,1035.0 1994.7,1035.7 1996.7,1036.4 1998.7,1037.0 2000.7,1037.7 2002.7,1038.4 2004.7,1039.1 2006.7,1039.8 2008.7,1040.5 2010.7,1041.1 2012.7,1041.8 2014.7,1042.5 2016.7,1043.2 2018.7,1043.8 2020.7,1044.5 2022.7,1045.2 2024.7,1045.8 2026.7,1046.5 2028.7,1047.2 2030.7,1047.8 2032.7,1048.5 2034.7,1049.1 2036.7,1049.8 2038.7,1050.5 2040.7,1051.1 2042.7,1051.8 2044.7,1052.4 2046.7,1053.1 2048.7,1053.7 2050.7,1054.4 2052.7,1055.0 2054.7,1055.7 2056.7,1056.3 2058.7,1057.0 2060.7,1057.6 2062.7,1058.3 2064.7,1058.9 2066.7,1059.5 2068.7,1060.2 2070.7,1060.8 2072.7,1061.5 2074.7,1062.1 2076.7,1062.7 2078.7,1063.4 2080.7,1064.0 2082.7,1064.6 2084.7,1065.3 2086.7,1065.9 2088.7,1066.5 2090.7,1067.1 2092.7,1067.8 2094.7,1068.4 2096.7,1069.0 2098.7,1069.7 2100.7,1070.3 2102.7,1070.9 2104.7,1071.5 2106.7,1072.1 2108.7,1072.8 2110.7,1073.4 2112.7,1074.0 2114.7,1074.6 2116.7,1075.2 2118.7,1075.8 2120.7,1076.5 2122.7,1077.1 2124.7,1077.7 2126.7,1078.3 2128.7,1078.9 2130.7,1079.5 2132.7,1080.1 2134.7,1080.7 2136.7,1081.4 2138.7,1082.0 2140.7,1082.6 2142.7,1083.2 2144.7,1083.8 2146.7,1084.4 2148.7,1085.0 2150.7,1085.6 2152.7,1086.2 2154.7,1086.8 2156.7,1087.4 2158.7,1088.0 2160.7,1088.6 2162.7,1089.2 2164.7,1089.8 2166.7,1090.4 2168.7,1091.0 2170.7,1091.6 2172.7,1092.2 2174.7,1092.8 2176.7,1093.4 2178.7,1094.0 2180.7,1094.6 2182.7,1095.2 2184.7,1095.8 2186.7,1096.4 2188.7,1097.0 2190.7,1097.6 2192.7,1098.1 2194.7,1098.7 2196.7,1099.3 2198.7,1099.9 2200.7,1100.5 2202.7,1101.1 2204.7,1101.7 2206.7,1102.3 2208.7,1102.9 2210.7,1103.5 2212.7,1104.1 2214.7,1104.6 2216.7,1105.2 2218.7,1105.8 2220.7,1106.4 2222.7,1107.0 2224.7,1107.6 2226.7,1108.2 2228.7,1108.8 2230.7,1109.3 2232.7,1109.9 2234.7,1110.5 2236.7,1111.1 2238.7,1111.7 2240.7,1112.3 2242.7,1112.9 2244.7,1113.4 2246.7,1114.0 2248.7,1114.6 2250.7,1115.2 2252.7,1115.8 2254.7,1116.4 2256.7,1116.9 2258.7,1117.5 2260.7,1118.1 2262.7,1118.7 2264.7,1119.3 2266.7,1119.9 2268.7,1120.5 2270.7,1121.0 2272.7,1121.6 2274.7,1122.2 2276.7,1122.8 2278.7,1123.4 2280.7,1124.0 2282.7,1124.5 2284.7,1125.1 2286.7,1125.7 2288.7,1126.3 2290.7,1126.9 2292.7,1127.5 2294.7,1128.1 2296.7,1128.6 2298.7,1129.2 2300.7,1129.8 2302.7,1130.4 2304.7,1131.0 2306.7,1131.6 2308.7,1132.2 2310.7,1132.7 2312.7,1133.3 2314.7,1133.9 2316.7,1134.5 2318.7,1135.1 2320.7,1135.7 2322.7,1136.3 2324.7,1136.9 2326.7,1137.4 2328.7,1138.0 2330.7,1138.6" stroke-width="8.5"/></g>
<g fill="none" stroke="#e8ec30" stroke-linejoin="round" stroke-linecap="round"><path d="M250.0,411.1 252.0,413.4 254.0,415.5 256.0,417.6 258.0,419.7 260.0,421.7" stroke-width="7.5"/><path d="M259.0,420.7 261.0,422.7 263.0,424.6 265.0,426.6 267.0,428.5 269.0,430.4 271.0,432.3 273.0,434.2 275.0,436.1 277.0,438.0 279.0,439.9 281.0,441.8 283.0,443.6 285.0,445.4 287.0,447.2 289.0,449.0 291.0,450.7 293.0,452.4 295.0,454.1 297.0,455.7 299.0,457.2 301.0,458.7 303.0,460.2 305.0,461.6 307.0,463.0 309.0,464.4 311.0,465.7 313.0,467.0 315.0,468.3 317.0,469.6 319.0,470.9 321.0,472.2 323.0,473.5 325.0,474.9 327.0,476.2 329.0,477.6 331.0,479.0 333.0,480.4 335.0,481.8 337.0,483.3 339.0,484.9 340.0,485.7" stroke-width="8.0"/></g>
<g fill="none" stroke="#e8ec30" stroke-linejoin="round" stroke-linecap="round"><path d="M345.0,503.3 347.0,504.4 349.0,505.4 351.0,506.5 353.0,507.5 355.0,508.6 357.0,509.6 359.0,510.6 361.0,511.6 363.0,512.7 365.0,513.7 367.0,514.7 369.0,515.8 371.0,516.8 373.0,517.9 375.0,519.0 377.0,520.1 379.0,521.3 381.0,522.4 383.0,523.6 385.0,524.8 387.0,526.1 389.0,527.4 391.0,528.7 393.0,530.0 395.0,531.4 397.0,532.9 399.0,534.3 401.0,535.9 403.0,537.4 405.0,539.1 407.0,540.7 409.0,542.4 411.0,544.2 413.0,545.9 415.0,547.8 417.0,549.7 419.0,551.6 421.0,553.6" stroke-width="8.0"/><path d="M420.0,552.6 422.0,554.6 424.0,556.6 426.0,558.7 428.0,560.9 430.0,563.1 432.0,565.3 434.0,567.6 436.0,570.0 437.0,571.2" stroke-width="7.5"/><path d="M436.0,570.0 438.0,572.4 440.0,574.8 442.0,577.3 444.0,579.9 446.0,582.4 448.0,585.1 450.0,587.8 452.0,590.5 454.0,593.3 455.0,594.7" stroke-width="7.0"/><path d="M454.0,593.3 456.0,596.1 458.0,599.0 460.0,601.8 462.0,604.7 464.0,607.7 466.0,610.6 468.0,613.6 470.0,616.6 472.0,619.6 474.0,622.6 476.0,625.6 478.0,628.7 480.0,631.7 482.0,634.8 484.0,637.8 486.0,640.8 488.0,643.9 490.0,646.9 492.0,649.9 494.0,652.9 496.0,655.9 498.0,658.8 500.0,661.7 502.0,664.6 504.0,667.5 506.0,670.3 508.0,673.1" stroke-width="6.5"/><path d="M507.0,671.8 509.0,674.5 511.0,677.3 513.0,680.0 515.0,682.6 517.0,685.3 519.0,687.8 521.0,690.3 523.0,692.8 525.0,695.2" stroke-width="7.0"/><path d="M524.0,694.0 526.0,696.4 528.0,698.7 530.0,701.0 532.0,703.2 534.0,705.3 536.0,707.4 538.0,709.5 540.0,711.5" stroke-width="7.5"/><path d="M539.0,710.5 541.0,712.5 543.0,714.4 545.0,716.3 547.0,718.1 549.0,719.9 551.0,721.6 553.0,723.3 555.0,724.9 557.0,726.5 559.0,728.0 561.0,729.5 563.0,731.0 565.0,732.3 567.0,733.7 569.0,735.0 571.0,736.2 573.0,737.4 575.0,738.6 577.0,739.7 579.0,740.7 581.0,741.7 583.0,742.7 585.0,743.6 587.0,744.5 589.0,745.3 591.0,746.1 593.0,746.9 595.0,747.6 597.0,748.2 599.0,748.8 601.0,749.4 603.0,749.9 605.0,750.4 607.0,750.9 609.0,751.3 611.0,751.6 613.0,752.0 615.0,752.3 617.0,752.5 619.0,752.7 621.0,752.9 623.0,753.0 625.0,753.1 627.0,753.1 629.0,753.1 631.0,753.1 633.0,753.0 635.0,752.9 637.0,752.8 639.0,752.6 641.0,752.4 643.0,752.2 645.0,751.9 647.0,751.6 649.0,751.2 651.0,750.9 653.0,750.4 655.0,750.0 657.0,749.5 659.0,749.0 661.0,748.5 663.0,747.9 665.0,747.3 667.0,746.7 669.0,746.0 671.0,745.4 673.0,744.6 675.0,743.9 677.0,743.1 679.0,742.3 681.0,741.5 683.0,740.7 685.0,739.8 687.0,738.9 689.0,738.0 691.0,737.1 693.0,736.1 695.0,735.1 697.0,734.1 699.0,733.0 701.0,732.0 703.0,730.9 705.0,729.8 707.0,728.7 709.0,727.5 711.0,726.4 713.0,725.2 715.0,724.0 717.0,722.8 719.0,721.5 721.0,720.3 723.0,719.0 725.0,717.7 727.0,716.4 729.0,715.1 731.0,713.8 733.0,712.4 735.0,711.1 737.0,709.7 739.0,708.3 741.0,706.9 743.0,705.4 745.0,704.0 747.0,702.5 749.0,701.1 751.0,699.6 753.0,698.1 755.0,696.6 757.0,695.1 759.0,693.6 761.0,692.0 763.0,690.5 765.0,688.9 767.0,687.3 769.0,685.7 771.0,684.1 773.0,682.5 775.0,680.9 777.0,679.3 779.0,677.6 781.0,676.0 783.0,674.3 785.0,672.7 787.0,671.0 789.0,669.3 791.0,667.7 793.0,666.0 795.0,664.3 797.0,662.5 799.0,660.8 801.0,659.1 803.0,657.4 805.0,655.7 807.0,653.9 809.0,652.2 811.0,650.4 813.0,648.7 815.0,646.9 817.0,645.2 819.0,643.4 821.0,641.6 823.0,639.9 825.0,638.1 827.0,636.3 829.0,634.5 831.0,632.8 833.0,631.0 835.0,629.2 837.0,627.4 839.0,625.6 841.0,623.8 843.0,622.0 845.0,620.3 847.0,618.5 849.0,616.7 851.0,614.9 853.0,613.1 855.0,611.3 857.0,609.5 859.0,607.8 861.0,606.0 863.0,604.2 865.0,602.4 867.0,600.7 869.0,598.9 871.0,597.1 873.0,595.4 875.0,593.6 877.0,591.9 879.0,590.1 881.0,588.3 883.0,586.6 885.0,584.9 887.0,583.1 889.0,581.4 891.0,579.6 893.0,577.9 895.0,576.2 897.0,574.4 899.0,572.7 901.0,571.0 903.0,569.2 905.0,567.5 907.0,565.8 909.0,564.1 911.0,562.4 913.0,560.7 915.0,559.0 917.0,557.3 919.0,555.6 921.0,553.9 923.0,552.2 925.0,550.5 927.0,548.8 929.0,547.1 931.0,545.4 933.0,543.7 935.0,542.1 937.0,540.4 939.0,538.7 941.0,537.1 943.0,535.4 945.0,533.7 947.0,532.1 949.0,530.4 951.0,528.8 953.0,527.1 955.0,525.5 957.0,523.8 959.0,522.2 961.0,520.5 963.0,518.9 965.0,517.3 967.0,515.6 969.0,514.0 971.0,512.4 973.0,510.8 975.0,509.2 977.0,507.5 979.0,505.9 981.0,504.3 983.0,502.7 985.0,501.1 987.0,499.5 989.0,497.9 991.0,496.3 993.0,494.8 995.0,493.2 997.0,491.6 999.0,490.0 1001.0,488.4 1003.0,486.9 1005.0,485.3 1007.0,483.7 1009.0,482.2 1011.0,480.6 1013.0,479.0 1015.0,477.5 1017.0,475.9 1019.0,474.4 1021.0,472.9 1023.0,471.3 1025.0,469.8 1027.0,468.2 1029.0,466.7 1031.0,465.2 1033.0,463.7 1035.0,462.2 1037.0,460.6 1039.0,459.1 1041.0,457.6 1043.0,456.1 1045.0,454.6 1047.0,453.1 1049.0,451.6 1051.0,450.1 1053.0,448.6 1055.0,447.1 1057.0,445.7 1059.0,444.2 1061.0,442.7 1063.0,441.2 1065.0,439.8 1067.0,438.3 1069.0,436.9 1071.0,435.4 1073.0,433.9 1075.0,432.5 1077.0,431.1 1079.0,429.6 1081.0,428.2 1083.0,426.7 1085.0,425.3 1087.0,423.9 1089.0,422.5 1091.0,421.0 1093.0,419.6 1095.0,418.2 1097.0,416.8 1099.0,415.4 1101.0,414.0 1103.0,412.6 1105.0,411.2 1107.0,409.8 1109.0,408.4 1111.0,407.1 1113.0,405.7 1115.0,404.4 1117.0,403.0 1119.0,401.7 1121.0,400.3 1123.0,399.0 1125.0,397.7 1127.0,396.4 1129.0,395.1 1131.0,393.8 1133.0,392.5 1135.0,391.2 1137.0,389.9 1139.0,388.7 1141.0,387.4 1143.0,386.2 1145.0,385.0 1147.0,383.8 1149.0,382.6 1151.0,381.4 1153.0,380.2 1155.0,379.1 1157.0,377.9 1159.0,376.8 1161.0,375.7 1163.0,374.6 1165.0,373.5 1167.0,372.4 1169.0,371.5 1171.0,370.5 1173.0,369.6 1175.0,368.8 1177.0,368.1 1179.0,367.5 1181.0,366.9 1183.0,366.5 1185.0,366.2 1187.0,366.0 1189.0,366.0 1191.0,366.1 1193.0,366.4 1195.0,366.8 1197.0,367.3 1199.0,368.0 1201.0,368.9 1203.0,369.9 1205.0,371.1 1207.0,372.4 1209.0,373.8 1211.0,375.4 1213.0,377.1 1215.0,378.9 1217.0,380.9" stroke-width="8.0"/><path d="M1216.0,379.9 1218.0,381.9 1220.0,384.1 1222.0,386.3 1224.0,388.7" stroke-width="7.5"/><path d="M1223.0,387.5 1225.0,390.0 1227.0,392.5 1229.0,395.2 1231.0,398.0" stroke-width="7.0"/><path d="M1230.0,396.6 1232.0,399.4 1234.0,402.3 1236.0,405.4 1238.0,408.5 1240.0,411.7 1242.0,415.0 1244.0,418.3 1246.0,421.7 1247.0,423.5" stroke-width="6.5"/><path d="M1246.0,421.7 1248.0,425.2 1250.0,428.7 1252.0,432.2 1254.0,435.8 1256.0,439.4 1258.0,443.0 1260.0,446.6 1262.0,450.3 1264.0,454.0 1266.0,457.6 1268.0,461.3 1270.0,465.0 1272.0,468.8 1274.0,472.5 1276.0,476.2 1278.0,479.9 1280.0,483.7 1282.0,487.4 1284.0,491.2 1286.0,494.9 1288.0,498.6 1290.0,502.3 1292.0,506.0 1294.0,509.7 1296.0,513.4 1298.0,517.1 1300.0,520.7 1302.0,524.3 1304.0,527.9 1306.0,531.5 1308.0,535.1 1310.0,538.6 1312.0,542.1 1314.0,545.6 1315.0,547.3" stroke-width="6.0"/><path d="M1314.0,545.6 1316.0,549.0 1318.0,552.4 1320.0,555.8 1322.0,559.1 1324.0,562.4 1326.0,565.7 1328.0,568.9 1330.0,572.1 1332.0,575.3 1334.0,578.4 1336.0,581.6 1338.0,584.6 1340.0,587.7 1342.0,590.7 1344.0,593.7 1346.0,596.7 1348.0,599.7 1350.0,602.6 1352.0,605.5 1354.0,608.3 1356.0,611.2 1358.0,614.0" stroke-width="6.5"/><path d="M1357.0,612.6 1359.0,615.4 1361.0,618.1 1363.0,620.9 1365.0,623.6 1367.0,626.3 1369.0,628.9 1371.0,631.6 1373.0,634.2 1375.0,636.8 1377.0,639.4 1379.0,641.9 1381.0,644.4 1383.0,646.9 1385.0,649.4 1387.0,651.9 1389.0,654.3 1391.0,656.7 1393.0,659.1" stroke-width="7.0"/><path d="M1392.0,657.9 1394.0,660.3 1396.0,662.7 1398.0,665.0 1400.0,667.3 1402.0,669.6 1404.0,671.9 1406.0,674.2 1408.0,676.4 1410.0,678.7 1412.0,680.9 1414.0,683.1 1416.0,685.2 1418.0,687.4 1420.0,689.5 1422.0,691.6 1424.0,693.7 1426.0,695.8 1428.0,697.9 1430.0,700.0 1432.0,702.0 1434.0,704.0 1436.0,706.1 1438.0,708.1" stroke-width="7.5"/><path d="M1437.0,707.1 1439.0,709.1 1441.0,711.0 1443.0,713.0 1445.0,715.0 1447.0,716.9 1449.0,718.8 1451.0,720.7 1453.0,722.6 1455.0,724.5 1457.0,726.4 1459.0,728.3 1461.0,730.1 1463.0,732.0 1465.0,733.8 1467.0,735.6 1469.0,737.4 1471.0,739.2 1473.0,741.0 1475.0,742.8 1477.0,744.5 1479.0,746.3 1481.0,748.0 1483.0,749.7 1485.0,751.4 1487.0,753.1 1489.0,754.8 1491.0,756.5 1493.0,758.2 1495.0,759.9 1497.0,761.5 1499.0,763.2 1501.0,764.8 1503.0,766.5 1505.0,768.1 1507.0,769.7 1509.0,771.3 1511.0,772.9 1513.0,774.5 1515.0,776.1 1517.0,777.6 1519.0,779.2 1521.0,780.8 1523.0,782.3 1525.0,783.9 1527.0,785.4 1529.0,786.9 1531.0,788.5 1533.0,790.0 1535.0,791.5 1537.0,793.0 1539.0,794.5 1541.0,796.0 1543.0,797.5 1545.0,799.0 1547.0,800.4 1549.0,801.9 1551.0,803.4 1553.0,804.8 1555.0,806.3 1557.0,807.7 1559.0,809.2 1561.0,810.6 1563.0,812.1 1565.0,813.5 1567.0,814.9 1569.0,816.4 1571.0,817.8 1573.0,819.2 1575.0,820.6 1577.0,822.0 1579.0,823.5 1581.0,824.9 1583.0,826.3 1585.0,827.7 1587.0,829.1 1589.0,830.5 1591.0,831.9 1593.0,833.3 1595.0,834.7 1597.0,836.1 1599.0,837.5 1601.0,838.9 1603.0,840.3 1605.0,841.7 1607.0,843.0 1609.0,844.4 1611.0,845.8 1613.0,847.2 1615.0,848.6 1617.0,850.0 1619.0,851.4 1621.0,852.8 1623.0,854.2 1625.0,855.5 1627.0,856.9 1629.0,858.3 1631.0,859.7 1633.0,861.1 1635.0,862.5 1637.0,863.8 1639.0,865.2 1641.0,866.6 1643.0,868.0 1645.0,869.3 1647.0,870.7 1649.0,872.1 1651.0,873.4 1653.0,874.8 1655.0,876.2 1657.0,877.5 1659.0,878.9 1661.0,880.2 1663.0,881.6 1665.0,882.9 1667.0,884.2 1669.0,885.6 1671.0,886.9 1673.0,888.2 1675.0,889.5 1677.0,890.8 1679.0,892.1 1681.0,893.4 1683.0,894.7 1685.0,896.0 1687.0,897.3 1689.0,898.6 1691.0,899.8 1693.0,901.1 1695.0,902.4 1697.0,903.6 1699.0,904.9 1701.0,906.1 1703.0,907.3 1705.0,908.5 1707.0,909.8 1709.0,911.0 1711.0,912.2 1713.0,913.4 1715.0,914.5 1717.0,915.7 1719.0,916.9 1721.0,918.0 1723.0,919.2 1725.0,920.3 1727.0,921.5 1729.0,922.6 1731.0,923.7 1733.0,924.8 1735.0,925.9 1737.0,927.0 1739.0,928.0 1741.0,929.1 1743.0,930.2 1745.0,931.2 1747.0,932.3 1749.0,933.3 1751.0,934.3 1753.0,935.3 1755.0,936.3 1757.0,937.4 1759.0,938.3 1761.0,939.3 1763.0,940.3 1765.0,941.3 1767.0,942.3 1769.0,943.2 1771.0,944.2 1773.0,945.1 1775.0,946.1 1777.0,947.0 1779.0,947.9 1781.0,948.8 1783.0,949.8 1785.0,950.7 1787.0,951.6 1789.0,952.5 1791.0,953.4 1793.0,954.3 1795.0,955.1 1797.0,956.0 1799.0,956.9 1801.0,957.8 1803.0,958.6 1805.0,959.5 1807.0,960.4 1809.0,961.2 1811.0,962.1 1813.0,962.9 1815.0,963.8 1817.0,964.6 1819.0,965.4 1821.0,966.3 1823.0,967.1 1825.0,967.9 1827.0,968.8 1829.0,969.6 1831.0,970.4 1833.0,971.2 1835.0,972.1 1837.0,972.9 1839.0,973.7 1841.0,974.5 1843.0,975.3 1845.0,976.1 1847.0,976.9 1849.0,977.7 1851.0,978.5 1853.0,979.3 1855.0,980.1 1857.0,980.9 1859.0,981.7 1861.0,982.5 1863.0,983.3 1865.0,984.1 1867.0,984.8 1869.0,985.6 1871.0,986.4 1873.0,987.2 1875.0,987.9 1877.0,988.7 1879.0,989.5 1881.0,990.3 1883.0,991.0 1885.0,991.8 1887.0,992.5 1889.0,993.3 1891.0,994.1 1893.0,994.8 1895.0,995.6 1897.0,996.3 1899.0,997.1 1901.0,997.8 1903.0,998.6 1905.0,999.3 1907.0,1000.1 1909.0,1000.8 1911.0,1001.6 1913.0,1002.3 1915.0,1003.0 1917.0,1003.8 1919.0,1004.5 1921.0,1005.2 1923.0,1006.0 1925.0,1006.7 1927.0,1007.4 1929.0,1008.2 1931.0,1008.9 1933.0,1009.6 1935.0,1010.3 1937.0,1011.0 1939.0,1011.8 1941.0,1012.5 1943.0,1013.2 1945.0,1013.9 1947.0,1014.6 1949.0,1015.3 1951.0,1016.0 1953.0,1016.7 1955.0,1017.5 1957.0,1018.2 1959.0,1018.9 1961.0,1019.6 1963.0,1020.3 1965.0,1021.0 1967.0,1021.7 1969.0,1022.4 1971.0,1023.1 1973.0,1023.8 1975.0,1024.5 1977.0,1025.1 1979.0,1025.8 1981.0,1026.5 1983.0,1027.2 1985.0,1027.9 1987.0,1028.6 1989.0,1029.3 1991.0,1030.0 1993.0,1030.6 1995.0,1031.3 1997.0,1032.0 1999.0,1032.7 2001.0,1033.4 2003.0,1034.1 2005.0,1034.7 2007.0,1035.4 2009.0,1036.1 2011.0,1036.8 2013.0,1037.4 2015.0,1038.1 2017.0,1038.8 2019.0,1039.4 2021.0,1040.1 2023.0,1040.8 2025.0,1041.5 2027.0,1042.1 2029.0,1042.8 2031.0,1043.5 2033.0,1044.1 2035.0,1044.8 2037.0,1045.5 2039.0,1046.1 2041.0,1046.8 2043.0,1047.4 2045.0,1048.1 2047.0,1048.8 2049.0,1049.4 2051.0,1050.1 2053.0,1050.7 2055.0,1051.4 2057.0,1052.1 2059.0,1052.7 2061.0,1053.4 2063.0,1054.0 2065.0,1054.7 2067.0,1055.3 2069.0,1056.0 2071.0,1056.7 2073.0,1057.3 2075.0,1058.0 2077.0,1058.6 2079.0,1059.3 2081.0,1059.9 2083.0,1060.6 2085.0,1061.2 2087.0,1061.9 2089.0,1062.5 2091.0,1063.2 2093.0,1063.8 2095.0,1064.5 2097.0,1065.1 2099.0,1065.7 2101.0,1066.4 2103.0,1067.0 2105.0,1067.7 2107.0,1068.3 2109.0,1069.0 2111.0,1069.6 2113.0,1070.2 2115.0,1070.9 2117.0,1071.5 2119.0,1072.1 2121.0,1072.8 2123.0,1073.4 2125.0,1074.0 2127.0,1074.7 2129.0,1075.3 2131.0,1075.9 2133.0,1076.6 2135.0,1077.2 2137.0,1077.8 2139.0,1078.4 2141.0,1079.1 2143.0,1079.7 2145.0,1080.3 2147.0,1080.9 2149.0,1081.6 2151.0,1082.2 2153.0,1082.8 2155.0,1083.4 2157.0,1084.0 2159.0,1084.6 2161.0,1085.2 2163.0,1085.9 2165.0,1086.5 2167.0,1087.1 2169.0,1087.7 2171.0,1088.3 2173.0,1088.9 2175.0,1089.5 2177.0,1090.1 2179.0,1090.7 2181.0,1091.3 2183.0,1091.9 2185.0,1092.5 2187.0,1093.1 2189.0,1093.7 2191.0,1094.3 2193.0,1094.8 2195.0,1095.4 2197.0,1096.0 2199.0,1096.6 2201.0,1097.2 2203.0,1097.8 2205.0,1098.3 2207.0,1098.9 2209.0,1099.5 2211.0,1100.1 2213.0,1100.6 2215.0,1101.2 2217.0,1101.8 2219.0,1102.4 2221.0,1102.9 2223.0,1103.5 2225.0,1104.0 2227.0,1104.6 2229.0,1105.2 2231.0,1105.7 2233.0,1106.3 2235.0,1106.8 2237.0,1107.4 2239.0,1107.9 2241.0,1108.5 2243.0,1109.0 2245.0,1109.6 2247.0,1110.1 2249.0,1110.6 2251.0,1111.2 2253.0,1111.7 2255.0,1112.2 2257.0,1112.8 2259.0,1113.3 2261.0,1113.8 2263.0,1114.3 2265.0,1114.9 2267.0,1115.4 2269.0,1115.9 2271.0,1116.4 2273.0,1116.9 2275.0,1117.4 2277.0,1117.9 2279.0,1118.4 2281.0,1118.9 2283.0,1119.4 2285.0,1119.9 2287.0,1120.4 2289.0,1120.9 2291.0,1121.4 2293.0,1121.9 2295.0,1122.4 2297.0,1122.9 2299.0,1123.4 2301.0,1123.8 2303.0,1124.3 2305.0,1124.8 2307.0,1125.3 2309.0,1125.7 2311.0,1126.2 2313.0,1126.7 2315.0,1127.1 2317.0,1127.6 2319.0,1128.0 2321.0,1128.5 2323.0,1128.9 2325.0,1129.4 2327.0,1129.8 2329.0,1130.3 2331.0,1130.7 2333.0,1131.2 2334.0,1131.4" stroke-width="8.0"/></g>
<g fill="none" stroke="#66e066" stroke-linejoin="round" stroke-linecap="round"><path d="M248.0,604.2 250.0,605.1 252.0,605.9 254.0,606.8 256.0,607.6 258.0,608.4 260.0,609.2 262.0,609.9 264.0,610.7 266.0,611.4 268.0,612.1 270.0,612.8 272.0,613.5 274.0,614.2 276.0,614.8 278.0,615.5 280.0,616.1 282.0,616.7 284.0,617.3 286.0,617.9 288.0,618.5 290.0,619.0 292.0,619.6 294.0,620.1 296.0,620.6 298.0,621.1 300.0,621.6 302.0,622.1 304.0,622.6 306.0,623.0 308.0,623.5 310.0,623.9 312.0,624.3 314.0,624.7 316.0,625.2 318.0,625.5 320.0,625.9 322.0,626.3 324.0,626.7 326.0,627.0 328.0,627.4 330.0,627.7 332.0,628.1 334.0,628.4 336.0,628.7 338.0,629.0 339.0,629.1" stroke-width="9.5"/></g>
<g fill="none" stroke="#66e066" stroke-linejoin="round" stroke-linecap="round"><path d="M348.0,568.7 350.0,568.8 352.0,568.9 354.0,568.9 356.0,569.0 358.0,569.0 360.0,569.0 362.0,569.0 364.0,568.9 366.0,568.9 368.0,568.9 370.0,568.8 372.0,568.8 374.0,568.8 376.0,568.7 378.0,568.7 380.0,568.7 382.0,568.7 384.0,568.7 386.0,568.7 388.0,568.8 390.0,568.8 392.0,568.9 394.0,569.0 396.0,569.2 398.0,569.4 400.0,569.6 402.0,569.8 404.0,570.1 406.0,570.4 408.0,570.7 410.0,571.0 412.0,571.4 414.0,571.8 416.0,572.3 418.0,572.7 420.0,573.2 422.0,573.8 424.0,574.3 426.0,574.9 428.0,575.5 430.0,576.2 432.0,576.9 434.0,577.6 436.0,578.3 438.0,579.0 440.0,579.8 442.0,580.6 444.0,581.5 446.0,582.3 448.0,583.2 450.0,584.1 452.0,585.1 454.0,586.1 456.0,587.0 458.0,588.1 460.0,589.1 462.0,590.2 464.0,591.3 466.0,592.4 468.0,593.6 470.0,594.8 472.0,596.0 474.0,597.2 476.0,598.4 478.0,599.7 480.0,601.0 482.0,602.4 484.0,603.7 486.0,605.1 488.0,606.5 490.0,607.9 492.0,609.3 494.0,610.8 496.0,612.3 498.0,613.8 500.0,615.3 502.0,616.8 504.0,618.3 506.0,619.9 508.0,621.5 510.0,623.0 512.0,624.6 514.0,626.2 516.0,627.8 518.0,629.4 520.0,631.1 522.0,632.7 524.0,634.3 526.0,636.0 528.0,637.6 530.0,639.2 532.0,640.9 534.0,642.5 536.0,644.2 538.0,645.8 540.0,647.5 542.0,649.1 544.0,650.8 546.0,652.4 548.0,654.0 550.0,655.6 552.0,657.3 554.0,658.9 556.0,660.5 558.0,662.1 560.0,663.6 562.0,665.2 564.0,666.7 566.0,668.3 568.0,669.8 570.0,671.3 572.0,672.8 574.0,674.3 576.0,675.7 578.0,677.2 580.0,678.6 582.0,680.0 584.0,681.4 586.0,682.7 588.0,684.0 590.0,685.3 592.0,686.6 594.0,687.9 596.0,689.1 598.0,690.3 600.0,691.5 602.0,692.6 604.0,693.7 606.0,694.8 608.0,695.8 610.0,696.9 612.0,697.8 614.0,698.8 616.0,699.7 618.0,700.6 620.0,701.5 622.0,702.3 624.0,703.1 626.0,703.9 628.0,704.7 630.0,705.4 632.0,706.1 634.0,706.7 636.0,707.4 638.0,708.0 640.0,708.6 642.0,709.1 644.0,709.6 646.0,710.1 648.0,710.5 650.0,711.0 652.0,711.4 654.0,711.7 656.0,712.1 658.0,712.4 660.0,712.7 662.0,712.9 664.0,713.1 666.0,713.3 668.0,713.5 670.0,713.6 672.0,713.7 674.0,713.8 676.0,713.8 678.0,713.8 680.0,713.8 682.0,713.8 684.0,713.7 686.0,713.6 688.0,713.4 690.0,713.3 692.0,713.1 694.0,712.9 696.0,712.6 698.0,712.3 700.0,712.0 702.0,711.7 704.0,711.3 706.0,710.9 708.0,710.5 710.0,710.0 712.0,709.6 714.0,709.1 716.0,708.5 718.0,708.0 720.0,707.4 722.0,706.8 724.0,706.2 726.0,705.5 728.0,704.8 730.0,704.1 732.0,703.4 734.0,702.7 736.0,701.9 738.0,701.1 740.0,700.3 742.0,699.5 744.0,698.6 746.0,697.7 748.0,696.8 750.0,695.9 752.0,695.0 754.0,694.0 756.0,693.1 758.0,692.1 760.0,691.1 762.0,690.1 764.0,689.0 766.0,688.0 768.0,686.9 770.0,685.8 772.0,684.7 774.0,683.6 776.0,682.5 778.0,681.3 780.0,680.2 782.0,679.0 784.0,677.8 786.0,676.6 788.0,675.4 790.0,674.2 792.0,672.9 794.0,671.7 796.0,670.4 798.0,669.2 800.0,667.9 802.0,666.6 804.0,665.3 806.0,664.0 808.0,662.7 810.0,661.4 812.0,660.1 814.0,658.7 816.0,657.4 818.0,656.0 820.0,654.7 822.0,653.3 824.0,652.0 826.0,650.6 828.0,649.2 830.0,647.8 832.0,646.4 834.0,645.0 836.0,643.6 838.0,642.2 840.0,640.8 842.0,639.4 844.0,638.0 846.0,636.6 848.0,635.2 850.0,633.8 852.0,632.4 854.0,630.9 856.0,629.5 858.0,628.1 860.0,626.7 862.0,625.2 864.0,623.8 866.0,622.4 868.0,620.9 870.0,619.5 872.0,618.1 874.0,616.6 876.0,615.2 878.0,613.8 880.0,612.4 882.0,610.9 884.0,609.5 886.0,608.1 888.0,606.7 890.0,605.3 892.0,603.8 894.0,602.4 896.0,601.0 898.0,599.6 900.0,598.2 902.0,596.8 904.0,595.4 906.0,594.0 908.0,592.7 910.0,591.3 912.0,589.9 914.0,588.6 916.0,587.2 918.0,585.8 920.0,584.5 922.0,583.2 924.0,581.8 926.0,580.5 928.0,579.2 930.0,577.9 932.0,576.6 934.0,575.3 936.0,574.0 938.0,572.7 940.0,571.4 942.0,570.1 944.0,568.9 946.0,567.6 948.0,566.3 950.0,565.1 952.0,563.8 954.0,562.6 956.0,561.3 958.0,560.1 960.0,558.9 962.0,557.6 964.0,556.4 966.0,555.2 968.0,553.9 970.0,552.7 972.0,551.5 974.0,550.2 976.0,549.0 978.0,547.8 980.0,546.6 982.0,545.3 984.0,544.1 986.0,542.9 988.0,541.7 990.0,540.4 992.0,539.2 994.0,538.0 996.0,536.7 998.0,535.5 1000.0,534.3 1002.0,533.0 1004.0,531.8 1006.0,530.5 1008.0,529.3 1010.0,528.0 1012.0,526.8 1014.0,525.5 1016.0,524.2 1018.0,523.0 1020.0,521.7 1022.0,520.4 1024.0,519.1 1026.0,517.8 1028.0,516.5 1030.0,515.2 1032.0,513.8 1034.0,512.5 1036.0,511.2 1038.0,509.8 1040.0,508.5 1042.0,507.1 1044.0,505.7 1046.0,504.4 1048.0,503.0 1050.0,501.6 1052.0,500.2 1054.0,498.7 1056.0,497.3 1058.0,495.9 1060.0,494.4 1062.0,492.9 1064.0,491.5 1066.0,490.0 1068.0,488.5 1070.0,487.0 1072.0,485.4 1074.0,483.9 1076.0,482.3 1078.0,480.8 1080.0,479.2 1082.0,477.6 1084.0,476.0 1086.0,474.3 1088.0,472.7 1090.0,471.0 1092.0,469.4 1094.0,467.7 1096.0,466.0 1098.0,464.3 1100.0,462.5 1102.0,460.8 1104.0,459.0 1106.0,457.3 1108.0,455.5 1110.0,453.7 1112.0,451.9 1114.0,450.1 1116.0,448.3 1118.0,446.5 1120.0,444.7 1122.0,442.9 1124.0,441.1 1126.0,439.3 1128.0,437.5 1130.0,435.7 1132.0,433.9 1134.0,432.1 1136.0,430.3 1138.0,428.5 1140.0,426.8 1142.0,425.0 1144.0,423.3 1146.0,421.5 1148.0,419.8 1150.0,418.1 1152.0,416.4 1154.0,414.7 1156.0,413.0 1158.0,411.4 1160.0,409.7 1162.0,408.1 1164.0,406.5 1166.0,405.0 1168.0,403.4 1170.0,401.9 1172.0,400.4 1174.0,398.9 1176.0,397.5 1178.0,396.0 1180.0,394.7 1182.0,393.3 1184.0,392.0 1186.0,390.7 1188.0,389.4 1190.0,388.2 1192.0,386.9 1194.0,385.8 1196.0,384.6 1198.0,383.5 1200.0,382.4 1202.0,381.4 1204.0,380.4 1206.0,379.4 1208.0,378.5 1210.0,377.5 1212.0,376.7 1214.0,375.8 1216.0,375.0 1218.0,374.3 1220.0,373.5 1222.0,372.8 1224.0,372.2 1226.0,371.6 1228.0,371.0 1230.0,370.5 1232.0,370.0 1234.0,369.5 1236.0,369.1 1238.0,368.7 1240.0,368.4 1242.0,368.1 1244.0,367.8 1246.0,367.6 1248.0,367.4 1250.0,367.2 1252.0,367.1 1254.0,367.0 1256.0,367.0 1258.0,366.9 1260.0,367.0 1262.0,367.0 1264.0,367.1 1266.0,367.2 1268.0,367.3 1270.0,367.5 1272.0,367.7 1274.0,368.0 1276.0,368.2 1278.0,368.5 1280.0,368.8 1282.0,369.2 1284.0,369.6 1286.0,370.0 1288.0,370.4 1290.0,370.8 1292.0,371.3 1294.0,371.8 1296.0,372.3 1298.0,372.9 1300.0,373.4 1302.0,374.0 1304.0,374.7 1306.0,375.3 1308.0,375.9 1310.0,376.6 1312.0,377.3 1314.0,378.0 1316.0,378.8 1318.0,379.5 1320.0,380.3 1322.0,381.1 1324.0,381.8 1326.0,382.7 1328.0,383.5 1330.0,384.3 1332.0,385.2 1334.0,386.1 1336.0,387.0 1338.0,387.9 1340.0,388.8 1342.0,389.7 1344.0,390.6 1346.0,391.6 1348.0,392.5 1350.0,393.5 1352.0,394.4 1354.0,395.4 1356.0,396.4 1358.0,397.4 1360.0,398.4 1362.0,399.4 1364.0,400.4 1366.0,401.4 1368.0,402.4 1370.0,403.5 1372.0,404.5 1374.0,405.5 1376.0,406.6 1378.0,407.6 1380.0,408.6 1382.0,409.7 1384.0,410.7 1386.0,411.7 1388.0,412.8 1390.0,413.8 1392.0,414.8 1394.0,415.9 1396.0,416.9 1398.0,417.9 1400.0,418.9 1402.0,420.0 1404.0,421.0 1406.0,422.0 1408.0,423.0 1410.0,424.0 1412.0,425.0 1414.0,426.1 1416.0,427.1 1418.0,428.1 1420.0,429.1 1422.0,430.1 1424.0,431.1 1426.0,432.1 1428.0,433.1 1430.0,434.1 1432.0,435.1 1434.0,436.1 1436.0,437.0 1438.0,438.0 1440.0,439.0 1442.0,440.0 1444.0,441.0 1446.0,442.0 1448.0,442.9 1450.0,443.9 1452.0,444.9 1454.0,445.9 1456.0,446.8 1458.0,447.8 1460.0,448.8 1462.0,449.7 1464.0,450.7 1466.0,451.6 1468.0,452.6 1470.0,453.6 1472.0,454.5 1474.0,455.5 1476.0,456.4 1478.0,457.4 1480.0,458.3 1482.0,459.3 1484.0,460.2 1486.0,461.2 1488.0,462.1 1490.0,463.0 1492.0,464.0 1494.0,464.9 1496.0,465.9 1498.0,466.8 1500.0,467.7 1502.0,468.7 1504.0,469.6 1506.0,470.5 1508.0,471.4 1510.0,472.4 1512.0,473.3 1514.0,474.2 1516.0,475.1 1518.0,476.0 1520.0,477.0 1522.0,477.9 1524.0,478.8 1526.0,479.7 1528.0,480.6 1530.0,481.5 1532.0,482.4 1534.0,483.3 1536.0,484.2 1538.0,485.1 1540.0,486.0 1542.0,486.9 1544.0,487.8 1546.0,488.7 1548.0,489.6 1550.0,490.5 1552.0,491.4 1554.0,492.3 1556.0,493.2 1558.0,494.1 1560.0,494.9 1562.0,495.8 1564.0,496.7 1566.0,497.6 1568.0,498.5 1570.0,499.3 1572.0,500.2 1574.0,501.1 1576.0,502.0 1578.0,502.8 1580.0,503.7 1582.0,504.6 1584.0,505.5 1586.0,506.3 1588.0,507.2 1590.0,508.1 1592.0,508.9 1594.0,509.8 1596.0,510.6 1598.0,511.5 1600.0,512.4 1602.0,513.2 1604.0,514.1 1606.0,514.9 1608.0,515.8 1610.0,516.6 1612.0,517.5 1614.0,518.3 1616.0,519.2 1618.0,520.0 1620.0,520.9 1622.0,521.7 1624.0,522.5 1626.0,523.4 1628.0,524.2 1630.0,525.1 1632.0,525.9 1634.0,526.7 1636.0,527.6 1638.0,528.4 1640.0,529.2 1642.0,530.1 1644.0,530.9 1646.0,531.7 1648.0,532.6 1650.0,533.4 1652.0,534.2 1654.0,535.0 1656.0,535.9 1658.0,536.7 1660.0,537.5 1662.0,538.3 1664.0,539.1 1666.0,540.0 1668.0,540.8 1670.0,541.6 1672.0,542.4 1674.0,543.2 1676.0,544.0 1678.0,544.8 1680.0,545.6 1682.0,546.5 1684.0,547.3 1686.0,548.1 1688.0,548.9 1690.0,549.7 1692.0,550.5 1694.0,551.3 1696.0,552.1 1698.0,552.9 1700.0,553.7 1702.0,554.5 1704.0,555.3 1706.0,556.1 1708.0,556.9 1710.0,557.7 1712.0,558.5 1714.0,559.3 1716.0,560.1 1718.0,560.8 1720.0,561.6 1722.0,562.4 1724.0,563.2 1726.0,564.0 1728.0,564.8 1730.0,565.6 1732.0,566.4 1734.0,567.1 1736.0,567.9 1738.0,568.7 1740.0,569.5 1742.0,570.3 1744.0,571.1 1746.0,571.8 1748.0,572.6 1750.0,573.4 1752.0,574.2 1754.0,574.9 1756.0,575.7 1758.0,576.5 1760.0,577.3 1762.0,578.0 1764.0,578.8 1766.0,579.6 1768.0,580.4 1770.0,581.1 1772.0,581.9 1774.0,582.7 1776.0,583.4 1778.0,584.2 1780.0,585.0 1782.0,585.7 1784.0,586.5 1786.0,587.3 1788.0,588.0 1790.0,588.8 1792.0,589.5 1794.0,590.3 1796.0,591.1 1798.0,591.8 1800.0,592.6 1802.0,593.4 1804.0,594.1 1806.0,594.9 1808.0,595.6 1810.0,596.4 1812.0,597.1 1814.0,597.9 1816.0,598.6 1818.0,599.4 1820.0,600.2 1822.0,600.9 1824.0,601.7 1826.0,602.4 1828.0,603.2 1830.0,603.9 1832.0,604.7 1834.0,605.4 1836.0,606.2 1838.0,606.9 1840.0,607.7 1842.0,608.4 1844.0,609.2 1846.0,609.9 1848.0,610.7 1850.0,611.4 1852.0,612.1 1854.0,612.9 1856.0,613.6 1858.0,614.4 1860.0,615.1 1862.0,615.9 1864.0,616.6 1866.0,617.3 1868.0,618.1 1870.0,618.8 1872.0,619.6 1874.0,620.3 1876.0,621.1 1878.0,621.8 1880.0,622.5 1882.0,623.3 1884.0,624.0 1886.0,624.8 1888.0,625.5 1890.0,626.2 1892.0,627.0 1894.0,627.7 1896.0,628.4 1898.0,629.2 1900.0,629.9 1902.0,630.7 1904.0,631.4 1906.0,632.1 1908.0,632.9 1910.0,633.6 1912.0,634.3 1914.0,635.1 1916.0,635.8 1918.0,636.5 1920.0,637.3 1922.0,638.0 1924.0,638.7 1926.0,639.5 1928.0,640.2 1930.0,640.9 1932.0,641.7 1934.0,642.4 1936.0,643.1 1938.0,643.9 1940.0,644.6 1942.0,645.3 1944.0,646.1 1946.0,646.8 1948.0,647.5 1950.0,648.2 1952.0,649.0 1954.0,649.7 1956.0,650.4 1958.0,651.2 1960.0,651.9 1962.0,652.6 1964.0,653.3 1966.0,654.1 1968.0,654.8 1970.0,655.5 1972.0,656.3 1974.0,657.0 1976.0,657.7 1978.0,658.4 1980.0,659.1 1982.0,659.9 1984.0,660.6 1986.0,661.3 1988.0,662.0 1990.0,662.8 1992.0,663.5 1994.0,664.2 1996.0,664.9 1998.0,665.6 2000.0,666.3 2002.0,667.1 2004.0,667.8 2006.0,668.5 2008.0,669.2 2010.0,669.9 2012.0,670.6 2014.0,671.3 2016.0,672.1 2018.0,672.8 2020.0,673.5 2022.0,674.2 2024.0,674.9 2026.0,675.6 2028.0,676.3 2030.0,677.0 2032.0,677.7 2034.0,678.4 2036.0,679.1 2038.0,679.8 2040.0,680.5 2042.0,681.2 2044.0,681.9 2046.0,682.6 2048.0,683.3 2050.0,684.0 2052.0,684.7 2054.0,685.4 2056.0,686.1 2058.0,686.8 2060.0,687.4 2062.0,688.1 2064.0,688.8 2066.0,689.5 2068.0,690.2 2070.0,690.9 2072.0,691.5 2074.0,692.2 2076.0,692.9 2078.0,693.6 2080.0,694.3 2082.0,694.9 2084.0,695.6 2086.0,696.3 2088.0,696.9 2090.0,697.6 2092.0,698.3 2094.0,698.9 2096.0,699.6 2098.0,700.3 2100.0,700.9 2102.0,701.6 2104.0,702.3 2106.0,702.9 2108.0,703.6 2110.0,704.2 2112.0,704.9 2114.0,705.5 2116.0,706.2 2118.0,706.8 2120.0,707.5 2122.0,708.1 2124.0,708.8 2126.0,709.4 2128.0,710.0 2130.0,710.7 2132.0,711.3 2134.0,712.0 2136.0,712.6 2138.0,713.2 2140.0,713.8 2142.0,714.5 2144.0,715.1 2146.0,715.7 2148.0,716.4 2150.0,717.0 2152.0,717.6 2154.0,718.2 2156.0,718.8 2158.0,719.4 2160.0,720.0 2162.0,720.7 2164.0,721.3 2166.0,721.9 2168.0,722.5 2170.0,723.1 2172.0,723.7 2174.0,724.3 2176.0,724.9 2178.0,725.5 2180.0,726.1 2182.0,726.6 2184.0,727.2 2186.0,727.8 2188.0,728.4 2190.0,729.0 2192.0,729.6 2194.0,730.1 2196.0,730.7 2198.0,731.3 2200.0,731.8 2202.0,732.4 2204.0,732.9 2206.0,733.5 2208.0,734.0 2210.0,734.6 2212.0,735.1 2214.0,735.6 2216.0,736.1 2218.0,736.6 2220.0,737.1 2222.0,737.6 2224.0,738.1 2226.0,738.5 2228.0,739.0 2230.0,739.5 2232.0,739.9 2234.0,740.3 2236.0,740.7 2238.0,741.1 2240.0,741.5 2242.0,741.9 2244.0,742.3 2246.0,742.6 2248.0,743.0 2250.0,743.3 2252.0,743.6 2254.0,743.9 2256.0,744.2 2258.0,744.4 2260.0,744.7 2262.0,744.9 2264.0,745.1 2266.0,745.3 2268.0,745.5 2270.0,745.6 2272.0,745.8 2274.0,745.9 2276.0,746.0 2278.0,746.1 2280.0,746.1 2282.0,746.2 2284.0,746.2 2286.0,746.2 2288.0,746.2 2290.0,746.1 2292.0,746.1 2294.0,746.0 2296.0,745.9 2298.0,745.8 2300.0,745.8 2302.0,745.9 2304.0,746.1 2306.0,746.5 2308.0,747.1 2310.0,748.0 2312.0,749.1 2314.0,750.6 2316.0,752.4 2318.0,754.4 2320.0,756.5 2322.0,758.5 2324.0,760.1 2326.0,761.1 2328.0,761.3 2330.0,760.6 2332.0,758.7" stroke-width="9.5"/></g>
<rect x="339" y="603" width="8" height="8" fill="#9ad49a"/>
</g></g>
<rect x="246" y="128" width="4.3" height="1168" fill="#626666"/>
<rect x="250.3" y="128" width="4.4" height="1168" fill="#bcbfbf"/>
<rect x="233" y="1288" width="2099" height="4" fill="#7a7d7d"/>
<rect x="233" y="1292" width="2099" height="4" fill="#a9adad"/>
<rect x="346" y="1288" width="864" height="4" fill="#7a7e92"/>
<rect x="346" y="1292" width="864" height="4" fill="#a6aabb"/>
<rect x="233" y="1290.0" width="14" height="4" fill="#5e6262"/>
<rect x="233" y="1174.0" width="14" height="4" fill="#5e6262"/>
<rect x="233" y="1058.0" width="14" height="4" fill="#5e6262"/>
<rect x="233" y="942.0" width="14" height="4" fill="#5e6262"/>
<rect x="233" y="826.0" width="14" height="4" fill="#5e6262"/>
<rect x="233" y="710.0" width="14" height="4" fill="#5e6262"/>
<rect x="233" y="594.0" width="14" height="4" fill="#5e6262"/>
<rect x="233" y="478.0" width="14" height="4" fill="#5e6262"/>
<rect x="233" y="362.0" width="14" height="4" fill="#5e6262"/>
<rect x="233" y="246.0" width="14" height="4" fill="#5e6262"/>
<rect x="233" y="130.0" width="14" height="4" fill="#5e6262"/>
<rect x="248.0" y="1292" width="4" height="18" fill="#5e6262"/>
<rect x="594.8" y="1292" width="4" height="18" fill="#5e6262"/>
<rect x="941.6" y="1292" width="4" height="18" fill="#5e6262"/>
<rect x="1288.4" y="1292" width="4" height="18" fill="#5e6262"/>
<rect x="1635.2" y="1292" width="4" height="18" fill="#5e6262"/>
<rect x="1982.0" y="1292" width="4" height="18" fill="#5e6262"/>
<rect x="2328.8" y="1292" width="4" height="18" fill="#5e6262"/>
<line x1="910" y1="298" x2="955" y2="333" stroke="#333" stroke-width="4"/>
<polygon points="967,344 942,337 958,319" fill="#000"/>
<line x1="1173.5" y1="240" x2="1173.5" y2="322" stroke="#333" stroke-width="4"/>
<polygon points="1173.5,344 1160,318 1186,318" fill="#000"/>
<line x1="1421" y1="291" x2="1318" y2="327" stroke="#555" stroke-width="4"/>
<polygon points="1301,336 1318,318 1326,339" fill="#000"/>
<rect x="1897" y="171" width="361" height="278" fill="#fff"/>
<rect x="1901" y="172" width="357" height="4" fill="#555"/>
<rect x="1906" y="176" width="352" height="4" fill="#ddd"/>
<rect x="1897" y="172" width="9" height="277" fill="#888"/>
<rect x="1901" y="441" width="357" height="8" fill="#777"/>
<rect x="1934" y="194" width="14" height="14" fill="#8080c8"/>
<rect x="1934" y="247" width="14" height="14" fill="#000090"/>
<rect x="1934" y="302" width="14" height="14" fill="#cc1040"/>
<rect x="1934" y="356" width="14" height="14" fill="#ccdd44"/>
<rect x="1934" y="411" width="14" height="14" fill="#c0f0c0"/>
<text id="y0" class="tk" x="133.00" y="1311.0" textLength="82.70" lengthAdjust="spacingAndGlyphs">0.2</text>
<text id="y1" class="tk" x="131.00" y="1195.0" textLength="82.70" lengthAdjust="spacingAndGlyphs">0.3</text>
<text id="y2" class="tk" x="130.00" y="1079.0" textLength="82.70" lengthAdjust="spacingAndGlyphs">0.4</text>
<text id="y3" class="tk" x="132.00" y="963.0" textLength="82.70" lengthAdjust="spacingAndGlyphs">0.5</text>
<text id="y4" class="tk" x="131.00" y="847.0" textLength="82.70" lengthAdjust="spacingAndGlyphs">0.6</text>
<text id="y5" class="tk" x="132.00" y="731.0" textLength="82.70" lengthAdjust="spacingAndGlyphs">0.7</text>
<text id="y6" class="tk" x="131.00" y="615.0" textLength="82.70" lengthAdjust="spacingAndGlyphs">0.8</text>
<text id="y7" class="tk" x="131.00" y="499.0" textLength="82.70" lengthAdjust="spacingAndGlyphs">0.9</text>
<text id="y8" class="tk" x="182.00" y="383.0" textLength="33.09" lengthAdjust="spacingAndGlyphs">1</text>
<text id="y9" class="tk" x="132.00" y="267.0" textLength="82.70" lengthAdjust="spacingAndGlyphs">1.1</text>
<text id="y10" class="tk" x="133.00" y="151.0" textLength="82.70" lengthAdjust="spacingAndGlyphs">1.2</text>
<text id="x0" class="tk" x="200.50" y="1374" textLength="99.27" lengthAdjust="spacingAndGlyphs">300</text>
<text id="x1" class="tk" x="548.30" y="1374" textLength="99.27" lengthAdjust="spacingAndGlyphs">400</text>
<text id="x2" class="tk" x="894.10" y="1374" textLength="99.27" lengthAdjust="spacingAndGlyphs">500</text>
<text id="x3" class="tk" x="1240.90" y="1374" textLength="99.27" lengthAdjust="spacingAndGlyphs">600</text>
<text id="x4" class="tk" x="1587.70" y="1374" textLength="99.27" lengthAdjust="spacingAndGlyphs">700</text>
<text id="x5" class="tk" x="1935.00" y="1374" textLength="99.27" lengthAdjust="spacingAndGlyphs">800</text>
<text id="x6" class="tk" x="2281.80" y="1374" textLength="99.27" lengthAdjust="spacingAndGlyphs">900</text>
<text id="title" class="tt" x="736.38" y="93" textLength="989.00" lengthAdjust="spacingAndGlyphs">Normalized MEH-PPV Absorption</text>
<text id="xt" class="tt" x="1012.00" y="1465" textLength="564.17" lengthAdjust="spacingAndGlyphs">Wavelength (nm)</text>
<text id="yt" class="tt" transform="translate(81,1178) rotate(-90)" x="-5.93" y="0" textLength="947.89" lengthAdjust="spacingAndGlyphs">Relative Absorption Intensity</text>
<text id="a1" class="an" x="747.00" y="299" textLength="155.25" lengthAdjust="spacingAndGlyphs">Thin film</text>
<text id="a2" class="an" x="974.04" y="227" textLength="404.37" lengthAdjust="spacingAndGlyphs">0.24%, 0.35%, 0.47%</text>
<text id="a3" class="an" x="1434.05" y="305" textLength="118.60" lengthAdjust="spacingAndGlyphs">0.70%</text>
<text id="l0" class="lg" x="1958.00" y="214" textLength="137.82" lengthAdjust="spacingAndGlyphs">Thin film</text>
<text id="l1" class="lg" x="1956.01" y="267" textLength="274.70" lengthAdjust="spacingAndGlyphs">0.24% (569 nm)</text>
<text id="l2" class="lg" x="1956.01" y="322" textLength="274.70" lengthAdjust="spacingAndGlyphs">0.35% (571 nm)</text>
<text id="l3" class="lg" x="1956.01" y="376" textLength="274.70" lengthAdjust="spacingAndGlyphs">0.47% (572 nm)</text>
<text id="l4" class="lg" x="1956.01" y="431" textLength="274.70" lengthAdjust="spacingAndGlyphs">0.70% (590 nm)</text>
<rect x="38" y="501.5" width="8" height="23" fill="#111"/><rect x="73" y="501.5" width="8" height="23" fill="#111"/>
</svg>
</body></html>
